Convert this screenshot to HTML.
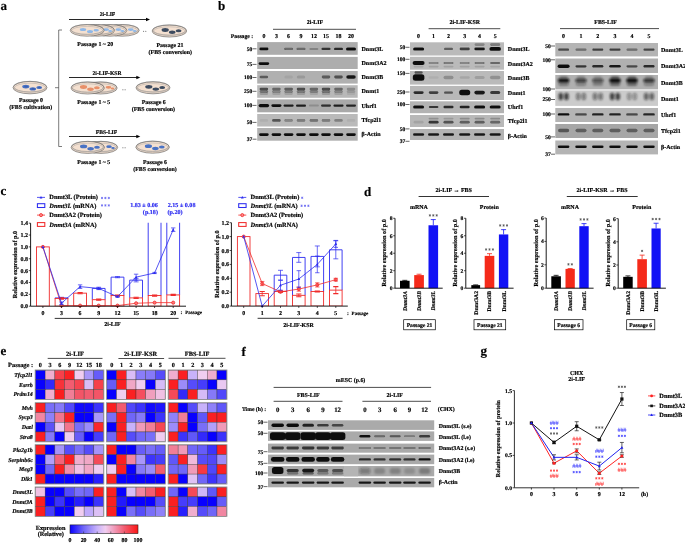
<!DOCTYPE html>
<html><head><meta charset="utf-8"><style>
html,body{margin:0;padding:0;background:#fff;width:685px;height:543px;overflow:hidden}
svg{display:block;will-change:transform}
text{font-family:"Liberation Serif",serif;font-weight:bold;text-rendering:geometricPrecision}
</style></head><body>
<svg width="685" height="543" viewBox="0 0 685 543">
<defs><filter id="sb" x="-30%" y="-30%" width="160%" height="160%"><feGaussianBlur stdDeviation="0.35"/></filter><filter id="bl" x="-30%" y="-80%" width="160%" height="260%"><feGaussianBlur stdDeviation="0.7"/></filter><filter id="bl2" x="-40%" y="-80%" width="180%" height="260%"><feGaussianBlur stdDeviation="1.1"/></filter></defs>
<text x="0.50" y="10.00" font-size="13" text-anchor="start" fill="#000" stroke="#000" stroke-width="0.18">a</text>
<text x="218.00" y="10.00" font-size="13" text-anchor="start" fill="#000" stroke="#000" stroke-width="0.18">b</text>
<text x="0.50" y="195.30" font-size="13" text-anchor="start" fill="#000" stroke="#000" stroke-width="0.18">c</text>
<text x="364.00" y="196.00" font-size="13" text-anchor="start" fill="#000" stroke="#000" stroke-width="0.18">d</text>
<text x="0.50" y="354.70" font-size="13" text-anchor="start" fill="#000" stroke="#000" stroke-width="0.18">e</text>
<text x="241.50" y="355.50" font-size="13" text-anchor="start" fill="#000" stroke="#000" stroke-width="0.18">f</text>
<text x="480.50" y="355.00" font-size="13" text-anchor="start" fill="#000" stroke="#000" stroke-width="0.18">g</text>
<path d="M62,30 L58.7,30 L58.7,146.5 L62,146.5" fill="none" stroke="#444" stroke-width="0.7"/>
<line x1="55.00" y1="87.70" x2="58.70" y2="87.70" stroke="#444" stroke-width="0.7"/>
<ellipse cx="30.00" cy="87.60" rx="17.00" ry="6.20" fill="#f4e0d0" stroke="#4a4a4a" stroke-width="0.55"/>
<ellipse cx="30.00" cy="86.60" rx="16.40" ry="5.30" fill="none" stroke="#777" stroke-width="0.45"/>
<ellipse cx="30.00" cy="87.80" rx="15.60" ry="4.60" fill="none" stroke="#9a9a9a" stroke-width="0.4"/>
<ellipse cx="25.80" cy="86.60" rx="3.60" ry="1.90" fill="#4a72c4" filter="url(#sb)"/>
<ellipse cx="26.10" cy="86.60" rx="1.98" ry="0.95" fill="#3a5fb0" filter="url(#sb)"/>
<ellipse cx="32.80" cy="88.90" rx="3.30" ry="1.70" fill="#4a72c4" filter="url(#sb)"/>
<ellipse cx="33.10" cy="88.90" rx="1.81" ry="0.85" fill="#3a5fb0" filter="url(#sb)"/>
<ellipse cx="39.20" cy="87.40" rx="2.90" ry="1.50" fill="#4a72c4" filter="url(#sb)"/>
<ellipse cx="39.50" cy="87.40" rx="1.59" ry="0.75" fill="#3a5fb0" filter="url(#sb)"/>
<text x="31.00" y="101.60" font-size="5.9" text-anchor="middle" fill="#000" stroke="#000" stroke-width="0.18">Passage 0</text>
<text x="30.70" y="109.20" font-size="5.9" text-anchor="middle" fill="#000" stroke="#000" stroke-width="0.18">(FBS cultivation)</text>
<text x="107.50" y="16.20" font-size="5.6" text-anchor="middle" fill="#000" stroke="#000" stroke-width="0.18">2i-LIF</text>
<line x1="69.00" y1="19.50" x2="147.00" y2="19.50" stroke="#000" stroke-width="0.85"/>
<polygon points="150.00,19.50 146.00,17.80 146.00,21.20" fill="#000"/>
<ellipse cx="122.20" cy="30.40" rx="17.00" ry="5.80" fill="#f4e0d0" stroke="#4a4a4a" stroke-width="0.55"/>
<ellipse cx="122.20" cy="29.40" rx="16.40" ry="4.90" fill="none" stroke="#777" stroke-width="0.45"/>
<ellipse cx="122.20" cy="30.60" rx="15.60" ry="4.20" fill="none" stroke="#9a9a9a" stroke-width="0.4"/>
<ellipse cx="130.70" cy="29.60" rx="2.90" ry="1.40" fill="#8fb8e8" filter="url(#sb)"/>
<ellipse cx="134.70" cy="31.00" rx="2.00" ry="1.10" fill="#8fb8e8" filter="url(#sb)"/>
<ellipse cx="109.90" cy="30.40" rx="17.00" ry="5.80" fill="#f4e0d0" stroke="#4a4a4a" stroke-width="0.55"/>
<ellipse cx="109.90" cy="29.40" rx="16.40" ry="4.90" fill="none" stroke="#777" stroke-width="0.45"/>
<ellipse cx="109.90" cy="30.60" rx="15.60" ry="4.20" fill="none" stroke="#9a9a9a" stroke-width="0.4"/>
<ellipse cx="118.40" cy="29.60" rx="2.90" ry="1.40" fill="#8fb8e8" filter="url(#sb)"/>
<ellipse cx="122.40" cy="31.00" rx="2.00" ry="1.10" fill="#8fb8e8" filter="url(#sb)"/>
<ellipse cx="97.60" cy="30.40" rx="17.00" ry="5.80" fill="#f4e0d0" stroke="#4a4a4a" stroke-width="0.55"/>
<ellipse cx="97.60" cy="29.40" rx="16.40" ry="4.90" fill="none" stroke="#777" stroke-width="0.45"/>
<ellipse cx="97.60" cy="30.60" rx="15.60" ry="4.20" fill="none" stroke="#9a9a9a" stroke-width="0.4"/>
<ellipse cx="106.10" cy="29.60" rx="2.90" ry="1.40" fill="#8fb8e8" filter="url(#sb)"/>
<ellipse cx="110.10" cy="31.00" rx="2.00" ry="1.10" fill="#8fb8e8" filter="url(#sb)"/>
<ellipse cx="87.20" cy="30.40" rx="17.00" ry="5.80" fill="#f4e0d0" stroke="#4a4a4a" stroke-width="0.55"/>
<ellipse cx="87.20" cy="29.40" rx="16.40" ry="4.90" fill="none" stroke="#777" stroke-width="0.45"/>
<ellipse cx="87.20" cy="30.60" rx="15.60" ry="4.20" fill="none" stroke="#9a9a9a" stroke-width="0.4"/>
<ellipse cx="83.00" cy="29.60" rx="3.20" ry="1.50" fill="#8fb8e8" filter="url(#sb)"/>
<ellipse cx="90.00" cy="31.60" rx="3.00" ry="1.50" fill="#8fb8e8" filter="url(#sb)"/>
<ellipse cx="96.20" cy="30.20" rx="2.70" ry="1.30" fill="#8fb8e8" filter="url(#sb)"/>
<circle cx="143.60" cy="31.30" r="0.55" fill="#555"/><circle cx="145.80" cy="31.30" r="0.55" fill="#555"/>
<ellipse cx="169.40" cy="31.00" rx="17.30" ry="6.00" fill="#f4e0d0" stroke="#4a4a4a" stroke-width="0.55"/>
<ellipse cx="169.40" cy="30.00" rx="16.70" ry="5.10" fill="none" stroke="#777" stroke-width="0.45"/>
<ellipse cx="169.40" cy="31.20" rx="15.90" ry="4.40" fill="none" stroke="#9a9a9a" stroke-width="0.4"/>
<ellipse cx="165.20" cy="30.00" rx="3.60" ry="1.90" fill="#3c4c60" filter="url(#sb)"/>
<ellipse cx="172.20" cy="32.30" rx="3.30" ry="1.70" fill="#3c4c60" filter="url(#sb)"/>
<ellipse cx="178.60" cy="30.80" rx="2.90" ry="1.50" fill="#3c4c60" filter="url(#sb)"/>
<text x="95.30" y="45.60" font-size="5.9" text-anchor="middle" fill="#000" stroke="#000" stroke-width="0.18">Passage 1 ~ 20</text>
<text x="170.00" y="47.00" font-size="5.9" text-anchor="middle" fill="#000" stroke="#000" stroke-width="0.18">Passage 21</text>
<text x="170.30" y="54.00" font-size="5.9" text-anchor="middle" fill="#000" stroke="#000" stroke-width="0.18">(FBS conversion)</text>
<text x="107.00" y="74.50" font-size="5.6" text-anchor="middle" fill="#000" stroke="#000" stroke-width="0.18">2i-LIF-KSR</text>
<line x1="69.00" y1="77.50" x2="137.30" y2="77.50" stroke="#000" stroke-width="0.85"/>
<polygon points="140.30,77.50 136.30,75.80 136.30,79.20" fill="#000"/>
<ellipse cx="100.50" cy="88.00" rx="16.70" ry="6.00" fill="#f4e0d0" stroke="#4a4a4a" stroke-width="0.55"/>
<ellipse cx="100.50" cy="87.00" rx="16.10" ry="5.10" fill="none" stroke="#777" stroke-width="0.45"/>
<ellipse cx="100.50" cy="88.20" rx="15.30" ry="4.40" fill="none" stroke="#9a9a9a" stroke-width="0.4"/>
<ellipse cx="108.50" cy="87.30" rx="2.80" ry="1.40" fill="#e8906a" filter="url(#sb)"/>
<ellipse cx="112.50" cy="88.50" rx="1.80" ry="1.00" fill="#e8906a" filter="url(#sb)"/>
<ellipse cx="87.70" cy="88.00" rx="16.70" ry="6.00" fill="#f4e0d0" stroke="#4a4a4a" stroke-width="0.55"/>
<ellipse cx="87.70" cy="87.00" rx="16.10" ry="5.10" fill="none" stroke="#777" stroke-width="0.45"/>
<ellipse cx="87.70" cy="88.20" rx="15.30" ry="4.40" fill="none" stroke="#9a9a9a" stroke-width="0.4"/>
<ellipse cx="83.50" cy="87.00" rx="3.60" ry="1.90" fill="#e8906a" filter="url(#sb)"/>
<ellipse cx="90.50" cy="89.30" rx="3.30" ry="1.70" fill="#e8906a" filter="url(#sb)"/>
<ellipse cx="96.90" cy="87.80" rx="2.90" ry="1.50" fill="#e8906a" filter="url(#sb)"/>
<circle cx="122.90" cy="89.80" r="0.55" fill="#555"/><circle cx="125.10" cy="89.80" r="0.55" fill="#555"/>
<ellipse cx="153.00" cy="87.80" rx="17.00" ry="6.00" fill="#f4e0d0" stroke="#4a4a4a" stroke-width="0.55"/>
<ellipse cx="153.00" cy="86.80" rx="16.40" ry="5.10" fill="none" stroke="#777" stroke-width="0.45"/>
<ellipse cx="153.00" cy="88.00" rx="15.60" ry="4.40" fill="none" stroke="#9a9a9a" stroke-width="0.4"/>
<ellipse cx="148.80" cy="86.80" rx="3.60" ry="1.90" fill="#3c4c60" filter="url(#sb)"/>
<ellipse cx="155.80" cy="89.10" rx="3.30" ry="1.70" fill="#3c4c60" filter="url(#sb)"/>
<ellipse cx="162.20" cy="87.60" rx="2.90" ry="1.50" fill="#3c4c60" filter="url(#sb)"/>
<text x="93.80" y="103.60" font-size="5.9" text-anchor="middle" fill="#000" stroke="#000" stroke-width="0.18">Passage 1 ~ 5</text>
<text x="153.80" y="104.00" font-size="5.9" text-anchor="middle" fill="#000" stroke="#000" stroke-width="0.18">Passage 6</text>
<text x="153.40" y="110.80" font-size="5.9" text-anchor="middle" fill="#000" stroke="#000" stroke-width="0.18">(FBS conversion)</text>
<text x="106.50" y="133.60" font-size="5.6" text-anchor="middle" fill="#000" stroke="#000" stroke-width="0.18">FBS-LIF</text>
<line x1="69.00" y1="136.50" x2="137.30" y2="136.50" stroke="#000" stroke-width="0.85"/>
<polygon points="140.30,136.50 136.30,134.80 136.30,138.20" fill="#000"/>
<ellipse cx="101.00" cy="147.40" rx="16.70" ry="6.00" fill="#f4e0d0" stroke="#4a4a4a" stroke-width="0.55"/>
<ellipse cx="101.00" cy="146.40" rx="16.10" ry="5.10" fill="none" stroke="#777" stroke-width="0.45"/>
<ellipse cx="101.00" cy="147.60" rx="15.30" ry="4.40" fill="none" stroke="#9a9a9a" stroke-width="0.4"/>
<ellipse cx="109.00" cy="146.70" rx="2.80" ry="1.40" fill="#4a72c4" filter="url(#sb)"/>
<ellipse cx="113.00" cy="147.90" rx="1.80" ry="1.00" fill="#4a72c4" filter="url(#sb)"/>
<ellipse cx="87.80" cy="147.40" rx="16.70" ry="6.00" fill="#f4e0d0" stroke="#4a4a4a" stroke-width="0.55"/>
<ellipse cx="87.80" cy="146.40" rx="16.10" ry="5.10" fill="none" stroke="#777" stroke-width="0.45"/>
<ellipse cx="87.80" cy="147.60" rx="15.30" ry="4.40" fill="none" stroke="#9a9a9a" stroke-width="0.4"/>
<ellipse cx="83.60" cy="146.40" rx="3.60" ry="1.90" fill="#4a72c4" filter="url(#sb)"/>
<ellipse cx="90.60" cy="148.70" rx="3.30" ry="1.70" fill="#4a72c4" filter="url(#sb)"/>
<ellipse cx="97.00" cy="147.20" rx="2.90" ry="1.50" fill="#4a72c4" filter="url(#sb)"/>
<circle cx="122.90" cy="147.70" r="0.55" fill="#555"/><circle cx="125.10" cy="147.70" r="0.55" fill="#555"/>
<ellipse cx="152.60" cy="147.20" rx="16.80" ry="6.00" fill="#f4e0d0" stroke="#4a4a4a" stroke-width="0.55"/>
<ellipse cx="152.60" cy="146.20" rx="16.20" ry="5.10" fill="none" stroke="#777" stroke-width="0.45"/>
<ellipse cx="152.60" cy="147.40" rx="15.40" ry="4.40" fill="none" stroke="#9a9a9a" stroke-width="0.4"/>
<ellipse cx="148.40" cy="146.20" rx="3.60" ry="1.90" fill="#4a72c4" filter="url(#sb)"/>
<ellipse cx="155.40" cy="148.50" rx="3.30" ry="1.70" fill="#4a72c4" filter="url(#sb)"/>
<ellipse cx="161.80" cy="147.00" rx="2.90" ry="1.50" fill="#4a72c4" filter="url(#sb)"/>
<text x="93.80" y="163.80" font-size="5.9" text-anchor="middle" fill="#000" stroke="#000" stroke-width="0.18">Passage 1 ~ 5</text>
<text x="155.00" y="164.00" font-size="5.9" text-anchor="middle" fill="#000" stroke="#000" stroke-width="0.18">Passage 6</text>
<text x="155.00" y="171.00" font-size="5.9" text-anchor="middle" fill="#000" stroke="#000" stroke-width="0.18">(FBS conversion)</text>
<rect x="257.20" y="42.10" width="100.50" height="12.70" fill="#acacac" stroke="none" stroke-width="0.6"/>
<rect x="257.20" y="56.90" width="100.50" height="12.10" fill="#adadad" stroke="none" stroke-width="0.6"/>
<rect x="257.20" y="71.00" width="100.50" height="12.60" fill="#b0b0b0" stroke="none" stroke-width="0.6"/>
<rect x="257.20" y="85.20" width="100.50" height="12.60" fill="#b8b8b8" stroke="none" stroke-width="0.6"/>
<rect x="257.20" y="99.40" width="100.50" height="12.90" fill="#a9a9a9" stroke="none" stroke-width="0.6"/>
<rect x="257.20" y="114.00" width="100.50" height="12.50" fill="#bababa" stroke="none" stroke-width="0.6"/>
<rect x="257.20" y="128.00" width="100.50" height="12.70" fill="#b0b0b0" stroke="none" stroke-width="0.6"/>
<rect x="259.40" y="47.60" width="9.00" height="2.60" rx="1.30" fill="#111" fill-opacity="1.00" filter="url(#bl)"/>
<rect x="284.10" y="47.80" width="9.00" height="2.20" rx="1.10" fill="#111" fill-opacity="0.44" filter="url(#bl)"/>
<rect x="296.50" y="47.80" width="9.00" height="2.20" rx="1.10" fill="#111" fill-opacity="0.44" filter="url(#bl)"/>
<rect x="309.40" y="47.90" width="9.00" height="2.00" rx="1.00" fill="#111" fill-opacity="0.24" filter="url(#bl)"/>
<rect x="321.50" y="47.80" width="9.00" height="2.20" rx="1.10" fill="#111" fill-opacity="0.77" filter="url(#bl)"/>
<rect x="334.00" y="47.70" width="9.00" height="2.40" rx="1.20" fill="#111" fill-opacity="0.83" filter="url(#bl)"/>
<rect x="346.00" y="47.40" width="10.00" height="3.00" rx="1.50" fill="#111" fill-opacity="1.00" filter="url(#bl)"/>
<rect x="258.65" y="62.30" width="10.50" height="2.60" rx="1.30" fill="#111" fill-opacity="1.00" filter="url(#bl)"/>
<rect x="259.65" y="75.70" width="8.50" height="2.60" rx="1.30" fill="#111" fill-opacity="0.55" filter="url(#bl)"/>
<rect x="284.35" y="75.50" width="8.50" height="3.00" rx="1.50" fill="#111" fill-opacity="0.07" filter="url(#bl)"/>
<rect x="296.75" y="75.50" width="8.50" height="3.00" rx="1.50" fill="#111" fill-opacity="0.13" filter="url(#bl)"/>
<rect x="321.75" y="75.60" width="8.50" height="2.80" rx="1.40" fill="#111" fill-opacity="0.55" filter="url(#bl)"/>
<rect x="334.25" y="75.60" width="8.50" height="2.80" rx="1.40" fill="#111" fill-opacity="0.61" filter="url(#bl)"/>
<rect x="346.25" y="75.20" width="9.50" height="3.60" rx="1.80" fill="#111" fill-opacity="0.94" filter="url(#bl)"/>
<rect x="259.65" y="87.80" width="8.50" height="2.40" rx="1.20" fill="#111" fill-opacity="0.66" filter="url(#bl)"/>
<rect x="272.15" y="87.80" width="8.50" height="2.40" rx="1.20" fill="#111" fill-opacity="0.50" filter="url(#bl)"/>
<rect x="284.35" y="87.80" width="8.50" height="2.40" rx="1.20" fill="#111" fill-opacity="0.55" filter="url(#bl)"/>
<rect x="296.75" y="87.80" width="8.50" height="2.40" rx="1.20" fill="#111" fill-opacity="0.66" filter="url(#bl)"/>
<rect x="309.65" y="87.80" width="8.50" height="2.40" rx="1.20" fill="#111" fill-opacity="0.50" filter="url(#bl)"/>
<rect x="321.75" y="87.80" width="8.50" height="2.40" rx="1.20" fill="#111" fill-opacity="0.66" filter="url(#bl)"/>
<rect x="334.25" y="87.80" width="8.50" height="2.40" rx="1.20" fill="#111" fill-opacity="0.50" filter="url(#bl)"/>
<rect x="346.75" y="87.80" width="8.50" height="2.40" rx="1.20" fill="#111" fill-opacity="0.24" filter="url(#bl)"/>
<rect x="259.65" y="89.90" width="8.50" height="3.00" rx="1.50" fill="#111" fill-opacity="0.42" filter="url(#bl)"/>
<rect x="272.15" y="89.90" width="8.50" height="3.00" rx="1.50" fill="#111" fill-opacity="0.33" filter="url(#bl)"/>
<rect x="284.35" y="89.90" width="8.50" height="3.00" rx="1.50" fill="#111" fill-opacity="0.35" filter="url(#bl)"/>
<rect x="296.75" y="89.90" width="8.50" height="3.00" rx="1.50" fill="#111" fill-opacity="0.39" filter="url(#bl)"/>
<rect x="309.65" y="89.90" width="8.50" height="3.00" rx="1.50" fill="#111" fill-opacity="0.31" filter="url(#bl)"/>
<rect x="321.75" y="89.90" width="8.50" height="3.00" rx="1.50" fill="#111" fill-opacity="0.42" filter="url(#bl)"/>
<rect x="334.25" y="89.90" width="8.50" height="3.00" rx="1.50" fill="#111" fill-opacity="0.33" filter="url(#bl)"/>
<rect x="346.75" y="89.90" width="8.50" height="3.00" rx="1.50" fill="#111" fill-opacity="0.17" filter="url(#bl)"/>
<rect x="259.65" y="92.70" width="8.50" height="2.20" rx="1.10" fill="#111" fill-opacity="0.17" filter="url(#bl)"/>
<rect x="272.15" y="92.70" width="8.50" height="2.20" rx="1.10" fill="#111" fill-opacity="0.13" filter="url(#bl)"/>
<rect x="284.35" y="92.70" width="8.50" height="2.20" rx="1.10" fill="#111" fill-opacity="0.13" filter="url(#bl)"/>
<rect x="296.75" y="92.70" width="8.50" height="2.20" rx="1.10" fill="#111" fill-opacity="0.15" filter="url(#bl)"/>
<rect x="309.65" y="92.70" width="8.50" height="2.20" rx="1.10" fill="#111" fill-opacity="0.11" filter="url(#bl)"/>
<rect x="321.75" y="92.70" width="8.50" height="2.20" rx="1.10" fill="#111" fill-opacity="0.17" filter="url(#bl)"/>
<rect x="334.25" y="92.70" width="8.50" height="2.20" rx="1.10" fill="#111" fill-opacity="0.13" filter="url(#bl)"/>
<rect x="346.75" y="92.70" width="8.50" height="2.20" rx="1.10" fill="#111" fill-opacity="0.07" filter="url(#bl)"/>
<rect x="258.65" y="104.00" width="10.50" height="3.20" rx="1.60" fill="#111" fill-opacity="1.00" filter="url(#bl)"/>
<rect x="271.40" y="104.20" width="10.00" height="2.80" rx="1.40" fill="#111" fill-opacity="1.00" filter="url(#bl)"/>
<rect x="283.60" y="104.40" width="10.00" height="2.40" rx="1.20" fill="#111" fill-opacity="0.90" filter="url(#bl)"/>
<rect x="296.00" y="104.40" width="10.00" height="2.40" rx="1.20" fill="#111" fill-opacity="0.90" filter="url(#bl)"/>
<rect x="308.90" y="104.60" width="10.00" height="2.00" rx="1.00" fill="#111" fill-opacity="0.17" filter="url(#bl)"/>
<rect x="321.00" y="104.50" width="10.00" height="2.20" rx="1.10" fill="#111" fill-opacity="0.79" filter="url(#bl)"/>
<rect x="333.50" y="104.40" width="10.00" height="2.40" rx="1.20" fill="#111" fill-opacity="0.90" filter="url(#bl)"/>
<rect x="346.00" y="104.50" width="10.00" height="2.20" rx="1.10" fill="#111" fill-opacity="0.86" filter="url(#bl)"/>
<rect x="259.65" y="119.10" width="8.50" height="2.60" rx="1.30" fill="#111" fill-opacity="0.06" filter="url(#bl)"/>
<rect x="272.15" y="119.10" width="8.50" height="2.60" rx="1.30" fill="#111" fill-opacity="0.61" filter="url(#bl)"/>
<rect x="284.35" y="119.10" width="8.50" height="2.60" rx="1.30" fill="#111" fill-opacity="0.33" filter="url(#bl)"/>
<rect x="296.75" y="119.10" width="8.50" height="2.60" rx="1.30" fill="#111" fill-opacity="0.39" filter="url(#bl)"/>
<rect x="309.65" y="119.10" width="8.50" height="2.60" rx="1.30" fill="#111" fill-opacity="0.44" filter="url(#bl)"/>
<rect x="321.75" y="119.10" width="8.50" height="2.60" rx="1.30" fill="#111" fill-opacity="0.39" filter="url(#bl)"/>
<rect x="334.25" y="119.10" width="8.50" height="2.60" rx="1.30" fill="#111" fill-opacity="0.31" filter="url(#bl)"/>
<rect x="346.75" y="119.10" width="8.50" height="2.60" rx="1.30" fill="#111" fill-opacity="0.06" filter="url(#bl)"/>
<rect x="259.15" y="133.30" width="9.50" height="2.60" rx="1.30" fill="#111" fill-opacity="1.00" filter="url(#bl)"/>
<rect x="271.65" y="133.30" width="9.50" height="2.60" rx="1.30" fill="#111" fill-opacity="1.00" filter="url(#bl)"/>
<rect x="283.85" y="133.30" width="9.50" height="2.60" rx="1.30" fill="#111" fill-opacity="1.00" filter="url(#bl)"/>
<rect x="296.25" y="133.30" width="9.50" height="2.60" rx="1.30" fill="#111" fill-opacity="1.00" filter="url(#bl)"/>
<rect x="309.15" y="133.30" width="9.50" height="2.60" rx="1.30" fill="#111" fill-opacity="1.00" filter="url(#bl)"/>
<rect x="321.25" y="133.30" width="9.50" height="2.60" rx="1.30" fill="#111" fill-opacity="1.00" filter="url(#bl)"/>
<rect x="333.75" y="133.30" width="9.50" height="2.60" rx="1.30" fill="#111" fill-opacity="1.00" filter="url(#bl)"/>
<rect x="346.25" y="133.30" width="9.50" height="2.60" rx="1.30" fill="#111" fill-opacity="1.00" filter="url(#bl)"/>
<text x="252.20" y="50.70" font-size="5.5" text-anchor="end" fill="#000" stroke="#000" stroke-width="0.18">50</text>
<line x1="252.50" y1="48.80" x2="256.50" y2="48.80" stroke="#000" stroke-width="0.6"/>
<text x="252.20" y="66.30" font-size="5.5" text-anchor="end" fill="#000" stroke="#000" stroke-width="0.18">75</text>
<line x1="252.50" y1="64.40" x2="256.50" y2="64.40" stroke="#000" stroke-width="0.6"/>
<text x="252.20" y="79.40" font-size="5.5" text-anchor="end" fill="#000" stroke="#000" stroke-width="0.18">100</text>
<line x1="252.50" y1="77.50" x2="256.50" y2="77.50" stroke="#000" stroke-width="0.6"/>
<text x="252.20" y="93.20" font-size="5.5" text-anchor="end" fill="#000" stroke="#000" stroke-width="0.18">250</text>
<line x1="252.50" y1="91.30" x2="256.50" y2="91.30" stroke="#000" stroke-width="0.6"/>
<text x="252.20" y="107.30" font-size="5.5" text-anchor="end" fill="#000" stroke="#000" stroke-width="0.18">100</text>
<line x1="252.50" y1="105.40" x2="256.50" y2="105.40" stroke="#000" stroke-width="0.6"/>
<text x="252.20" y="124.30" font-size="5.5" text-anchor="end" fill="#000" stroke="#000" stroke-width="0.18">50</text>
<line x1="252.50" y1="122.40" x2="256.50" y2="122.40" stroke="#000" stroke-width="0.6"/>
<text x="252.20" y="141.10" font-size="5.5" text-anchor="end" fill="#000" stroke="#000" stroke-width="0.18">37</text>
<line x1="252.50" y1="139.20" x2="256.50" y2="139.20" stroke="#000" stroke-width="0.6"/>
<text x="361.50" y="50.50" font-size="6" text-anchor="start" fill="#000" stroke="#000" stroke-width="0.18">Dnmt3L</text>
<text x="361.50" y="64.70" font-size="6" text-anchor="start" fill="#000" stroke="#000" stroke-width="0.18">Dnmt3A2</text>
<text x="361.50" y="78.70" font-size="6" text-anchor="start" fill="#000" stroke="#000" stroke-width="0.18">Dnmt3B</text>
<text x="361.50" y="92.80" font-size="6" text-anchor="start" fill="#000" stroke="#000" stroke-width="0.18">Dnmt1</text>
<text x="361.50" y="107.80" font-size="6" text-anchor="start" fill="#000" stroke="#000" stroke-width="0.18">Uhrf1</text>
<text x="361.50" y="122.00" font-size="6" text-anchor="start" fill="#000" stroke="#000" stroke-width="0.18">Tfcp2l1</text>
<text x="361.50" y="135.90" font-size="6" text-anchor="start" fill="#000" stroke="#000" stroke-width="0.18">β-Actin</text>
<text x="242.00" y="37.60" font-size="5.7" text-anchor="middle" fill="#000" stroke="#000" stroke-width="0.18">Passage :</text>
<text x="263.90" y="37.60" font-size="5.9" text-anchor="middle" fill="#000" stroke="#000" stroke-width="0.18">0</text>
<text x="276.40" y="37.60" font-size="5.9" text-anchor="middle" fill="#000" stroke="#000" stroke-width="0.18">3</text>
<text x="288.60" y="37.60" font-size="5.9" text-anchor="middle" fill="#000" stroke="#000" stroke-width="0.18">6</text>
<text x="301.00" y="37.60" font-size="5.9" text-anchor="middle" fill="#000" stroke="#000" stroke-width="0.18">9</text>
<text x="313.90" y="37.60" font-size="5.9" text-anchor="middle" fill="#000" stroke="#000" stroke-width="0.18">12</text>
<text x="326.00" y="37.60" font-size="5.9" text-anchor="middle" fill="#000" stroke="#000" stroke-width="0.18">15</text>
<text x="338.50" y="37.60" font-size="5.9" text-anchor="middle" fill="#000" stroke="#000" stroke-width="0.18">18</text>
<text x="351.00" y="37.60" font-size="5.9" text-anchor="middle" fill="#000" stroke="#000" stroke-width="0.18">20</text>
<line x1="273.00" y1="29.30" x2="356.00" y2="29.30" stroke="#000" stroke-width="0.7"/>
<text x="315.00" y="24.40" font-size="5.9" text-anchor="middle" fill="#000" stroke="#000" stroke-width="0.18">2i-LIF</text>
<rect x="410.00" y="42.30" width="94.00" height="13.20" fill="#bababa" stroke="none" stroke-width="0.6"/>
<rect x="410.00" y="56.80" width="94.00" height="12.90" fill="#bababa" stroke="none" stroke-width="0.6"/>
<rect x="410.00" y="71.00" width="94.00" height="13.60" fill="#bababa" stroke="none" stroke-width="0.6"/>
<rect x="410.00" y="85.90" width="94.00" height="14.10" fill="#b8b8b8" stroke="none" stroke-width="0.6"/>
<rect x="410.00" y="101.30" width="94.00" height="11.90" fill="#b3b3b3" stroke="none" stroke-width="0.6"/>
<rect x="410.00" y="115.00" width="94.00" height="12.00" fill="#b8b8b8" stroke="none" stroke-width="0.6"/>
<rect x="410.00" y="129.00" width="94.00" height="11.00" fill="#b3b3b3" stroke="none" stroke-width="0.6"/>
<rect x="413.10" y="47.40" width="11.00" height="3.00" rx="1.50" fill="#111" fill-opacity="1.00" filter="url(#bl)"/>
<rect x="444.00" y="47.80" width="9.00" height="2.20" rx="1.10" fill="#111" fill-opacity="0.55" filter="url(#bl)"/>
<rect x="459.70" y="47.60" width="10.00" height="2.60" rx="1.30" fill="#111" fill-opacity="0.72" filter="url(#bl)"/>
<rect x="474.35" y="47.50" width="10.50" height="2.80" rx="1.40" fill="#111" fill-opacity="0.94" filter="url(#bl)"/>
<rect x="489.45" y="47.00" width="11.50" height="3.80" rx="1.90" fill="#111" fill-opacity="1.00" filter="url(#bl)"/>
<rect x="459.70" y="43.30" width="10.00" height="2.60" rx="1.30" fill="#111" fill-opacity="0.06" filter="url(#bl)"/>
<rect x="474.60" y="43.30" width="10.00" height="2.60" rx="1.30" fill="#111" fill-opacity="0.28" filter="url(#bl)"/>
<rect x="490.20" y="43.30" width="10.00" height="2.60" rx="1.30" fill="#111" fill-opacity="0.39" filter="url(#bl)"/>
<rect x="412.60" y="61.00" width="12.00" height="4.00" rx="2.00" fill="#111" fill-opacity="1.00" filter="url(#bl)"/>
<rect x="428.60" y="62.10" width="10.00" height="1.80" rx="0.90" fill="#111" fill-opacity="0.33" filter="url(#bl)"/>
<rect x="443.50" y="62.10" width="10.00" height="1.80" rx="0.90" fill="#111" fill-opacity="0.39" filter="url(#bl)"/>
<rect x="459.70" y="62.10" width="10.00" height="1.80" rx="0.90" fill="#111" fill-opacity="0.33" filter="url(#bl)"/>
<rect x="474.60" y="62.10" width="10.00" height="1.80" rx="0.90" fill="#111" fill-opacity="0.39" filter="url(#bl)"/>
<rect x="490.20" y="62.00" width="10.00" height="2.00" rx="1.00" fill="#111" fill-opacity="0.50" filter="url(#bl)"/>
<rect x="413.60" y="65.80" width="10.00" height="1.60" rx="0.80" fill="#111" fill-opacity="0.11" filter="url(#bl)"/>
<rect x="428.60" y="65.80" width="10.00" height="1.60" rx="0.80" fill="#111" fill-opacity="0.13" filter="url(#bl)"/>
<rect x="443.50" y="65.80" width="10.00" height="1.60" rx="0.80" fill="#111" fill-opacity="0.13" filter="url(#bl)"/>
<rect x="459.70" y="65.80" width="10.00" height="1.60" rx="0.80" fill="#111" fill-opacity="0.13" filter="url(#bl)"/>
<rect x="474.60" y="65.80" width="10.00" height="1.60" rx="0.80" fill="#111" fill-opacity="0.13" filter="url(#bl)"/>
<rect x="490.20" y="65.80" width="10.00" height="1.60" rx="0.80" fill="#111" fill-opacity="0.11" filter="url(#bl)"/>
<rect x="412.85" y="74.15" width="11.50" height="6.50" rx="2.50" fill="#111" fill-opacity="1.00" filter="url(#bl)"/>
<rect x="428.60" y="76.15" width="10.00" height="2.50" rx="1.25" fill="#111" fill-opacity="0.06" filter="url(#bl)"/>
<rect x="443.50" y="75.65" width="10.00" height="3.50" rx="1.75" fill="#111" fill-opacity="0.24" filter="url(#bl)"/>
<rect x="459.70" y="76.15" width="10.00" height="2.50" rx="1.25" fill="#111" fill-opacity="0.11" filter="url(#bl)"/>
<rect x="474.60" y="75.90" width="10.00" height="3.00" rx="1.50" fill="#111" fill-opacity="0.15" filter="url(#bl)"/>
<rect x="489.95" y="75.65" width="10.50" height="3.50" rx="1.75" fill="#111" fill-opacity="0.22" filter="url(#bl)"/>
<rect x="414.60" y="71.25" width="8.00" height="2.50" rx="1.25" fill="#111" fill-opacity="0.61" filter="url(#bl)"/>
<rect x="413.60" y="91.20" width="10.00" height="2.80" rx="1.40" fill="#111" fill-opacity="0.83" filter="url(#bl)"/>
<rect x="428.85" y="91.30" width="9.50" height="2.60" rx="1.30" fill="#111" fill-opacity="0.72" filter="url(#bl)"/>
<rect x="444.00" y="91.40" width="9.00" height="2.40" rx="1.20" fill="#111" fill-opacity="0.61" filter="url(#bl)"/>
<rect x="459.20" y="89.85" width="11.00" height="5.50" rx="2.50" fill="#111" fill-opacity="1.00" filter="url(#bl)"/>
<rect x="474.35" y="90.80" width="10.50" height="3.60" rx="1.80" fill="#111" fill-opacity="0.94" filter="url(#bl)"/>
<rect x="490.20" y="91.10" width="10.00" height="3.00" rx="1.50" fill="#111" fill-opacity="0.77" filter="url(#bl)"/>
<rect x="413.10" y="105.40" width="11.00" height="3.20" rx="1.60" fill="#111" fill-opacity="1.00" filter="url(#bl)"/>
<rect x="428.85" y="106.00" width="9.50" height="2.00" rx="1.00" fill="#111" fill-opacity="0.77" filter="url(#bl)"/>
<rect x="443.50" y="105.80" width="10.00" height="2.40" rx="1.20" fill="#111" fill-opacity="0.83" filter="url(#bl)"/>
<rect x="459.70" y="105.80" width="10.00" height="2.40" rx="1.20" fill="#111" fill-opacity="0.88" filter="url(#bl)"/>
<rect x="474.10" y="105.50" width="11.00" height="3.00" rx="1.50" fill="#111" fill-opacity="1.00" filter="url(#bl)"/>
<rect x="489.70" y="105.40" width="11.00" height="3.20" rx="1.60" fill="#111" fill-opacity="1.00" filter="url(#bl)"/>
<rect x="413.60" y="120.80" width="10.00" height="2.80" rx="1.40" fill="#111" fill-opacity="0.11" filter="url(#bl)"/>
<rect x="428.60" y="120.80" width="10.00" height="2.80" rx="1.40" fill="#111" fill-opacity="0.77" filter="url(#bl)"/>
<rect x="443.50" y="120.80" width="10.00" height="2.80" rx="1.40" fill="#111" fill-opacity="0.61" filter="url(#bl)"/>
<rect x="459.70" y="120.80" width="10.00" height="2.80" rx="1.40" fill="#111" fill-opacity="0.55" filter="url(#bl)"/>
<rect x="474.60" y="120.80" width="10.00" height="2.80" rx="1.40" fill="#111" fill-opacity="0.55" filter="url(#bl)"/>
<rect x="490.20" y="120.80" width="10.00" height="2.80" rx="1.40" fill="#111" fill-opacity="0.50" filter="url(#bl)"/>
<rect x="428.60" y="117.70" width="10.00" height="1.80" rx="0.90" fill="#111" fill-opacity="0.22" filter="url(#bl)"/>
<rect x="443.50" y="117.70" width="10.00" height="1.80" rx="0.90" fill="#111" fill-opacity="0.17" filter="url(#bl)"/>
<rect x="459.70" y="117.70" width="10.00" height="1.80" rx="0.90" fill="#111" fill-opacity="0.24" filter="url(#bl)"/>
<rect x="474.60" y="117.70" width="10.00" height="1.80" rx="0.90" fill="#111" fill-opacity="0.24" filter="url(#bl)"/>
<rect x="490.20" y="117.70" width="10.00" height="1.80" rx="0.90" fill="#111" fill-opacity="0.24" filter="url(#bl)"/>
<rect x="413.10" y="133.30" width="11.00" height="2.40" rx="1.20" fill="#111" fill-opacity="0.94" filter="url(#bl)"/>
<rect x="428.10" y="133.30" width="11.00" height="2.40" rx="1.20" fill="#111" fill-opacity="0.94" filter="url(#bl)"/>
<rect x="443.00" y="133.30" width="11.00" height="2.40" rx="1.20" fill="#111" fill-opacity="0.94" filter="url(#bl)"/>
<rect x="459.20" y="133.30" width="11.00" height="2.40" rx="1.20" fill="#111" fill-opacity="0.94" filter="url(#bl)"/>
<rect x="474.10" y="133.30" width="11.00" height="2.40" rx="1.20" fill="#111" fill-opacity="0.94" filter="url(#bl)"/>
<rect x="489.70" y="133.30" width="11.00" height="2.40" rx="1.20" fill="#111" fill-opacity="0.94" filter="url(#bl)"/>
<text x="405.20" y="49.20" font-size="5.5" text-anchor="end" fill="#000" stroke="#000" stroke-width="0.18">50</text>
<line x1="405.50" y1="47.30" x2="409.50" y2="47.30" stroke="#000" stroke-width="0.6"/>
<text x="405.20" y="61.20" font-size="5.5" text-anchor="end" fill="#000" stroke="#000" stroke-width="0.18">100</text>
<line x1="405.50" y1="59.30" x2="409.50" y2="59.30" stroke="#000" stroke-width="0.6"/>
<text x="405.20" y="75.30" font-size="5.5" text-anchor="end" fill="#000" stroke="#000" stroke-width="0.18">150</text>
<line x1="405.50" y1="73.40" x2="409.50" y2="73.40" stroke="#000" stroke-width="0.6"/>
<text x="405.20" y="93.90" font-size="5.5" text-anchor="end" fill="#000" stroke="#000" stroke-width="0.18">250</text>
<line x1="405.50" y1="92.00" x2="409.50" y2="92.00" stroke="#000" stroke-width="0.6"/>
<text x="405.20" y="106.40" font-size="5.5" text-anchor="end" fill="#000" stroke="#000" stroke-width="0.18">100</text>
<line x1="405.50" y1="104.50" x2="409.50" y2="104.50" stroke="#000" stroke-width="0.6"/>
<text x="405.20" y="130.80" font-size="5.5" text-anchor="end" fill="#000" stroke="#000" stroke-width="0.18">50</text>
<line x1="405.50" y1="128.90" x2="409.50" y2="128.90" stroke="#000" stroke-width="0.6"/>
<text x="405.20" y="143.20" font-size="5.5" text-anchor="end" fill="#000" stroke="#000" stroke-width="0.18">37</text>
<line x1="405.50" y1="141.30" x2="409.50" y2="141.30" stroke="#000" stroke-width="0.6"/>
<text x="507.80" y="51.00" font-size="6" text-anchor="start" fill="#000" stroke="#000" stroke-width="0.18">Dnmt3L</text>
<text x="507.80" y="65.50" font-size="6" text-anchor="start" fill="#000" stroke="#000" stroke-width="0.18">Dnmt3A2</text>
<text x="507.80" y="80.40" font-size="6" text-anchor="start" fill="#000" stroke="#000" stroke-width="0.18">Dnmt3B</text>
<text x="507.80" y="94.80" font-size="6" text-anchor="start" fill="#000" stroke="#000" stroke-width="0.18">Dnmt1</text>
<text x="507.80" y="109.00" font-size="6" text-anchor="start" fill="#000" stroke="#000" stroke-width="0.18">Uhrf1</text>
<text x="507.80" y="123.40" font-size="6" text-anchor="start" fill="#000" stroke="#000" stroke-width="0.18">Tfcp2l1</text>
<text x="507.80" y="138.40" font-size="6" text-anchor="start" fill="#000" stroke="#000" stroke-width="0.18">β-Actin</text>
<text x="418.60" y="37.60" font-size="5.9" text-anchor="middle" fill="#000" stroke="#000" stroke-width="0.18">0</text>
<text x="433.60" y="37.60" font-size="5.9" text-anchor="middle" fill="#000" stroke="#000" stroke-width="0.18">1</text>
<text x="448.50" y="37.60" font-size="5.9" text-anchor="middle" fill="#000" stroke="#000" stroke-width="0.18">2</text>
<text x="464.70" y="37.60" font-size="5.9" text-anchor="middle" fill="#000" stroke="#000" stroke-width="0.18">3</text>
<text x="479.60" y="37.60" font-size="5.9" text-anchor="middle" fill="#000" stroke="#000" stroke-width="0.18">4</text>
<text x="495.20" y="37.60" font-size="5.9" text-anchor="middle" fill="#000" stroke="#000" stroke-width="0.18">5</text>
<line x1="428.60" y1="28.70" x2="500.30" y2="28.70" stroke="#000" stroke-width="0.7"/>
<text x="464.70" y="24.40" font-size="5.9" text-anchor="middle" fill="#000" stroke="#000" stroke-width="0.18">2i-LIF-KSR</text>
<rect x="555.30" y="43.00" width="102.70" height="13.40" fill="#b4b4b4" stroke="none" stroke-width="0.6"/>
<rect x="555.30" y="58.50" width="102.70" height="14.50" fill="#b0b0b0" stroke="none" stroke-width="0.6"/>
<rect x="555.30" y="75.00" width="102.70" height="14.40" fill="#b0b0b0" stroke="none" stroke-width="0.6"/>
<rect x="555.30" y="90.40" width="102.70" height="15.50" fill="#cbcbcb" stroke="none" stroke-width="0.6"/>
<rect x="555.30" y="108.00" width="102.70" height="14.00" fill="#b4b4b4" stroke="none" stroke-width="0.6"/>
<rect x="555.30" y="124.00" width="102.70" height="14.00" fill="#a6a6a6" stroke="none" stroke-width="0.6"/>
<rect x="555.30" y="140.50" width="102.70" height="13.90" fill="#b4b4b4" stroke="none" stroke-width="0.6"/>
<rect x="558.10" y="48.60" width="11.00" height="2.20" rx="1.10" fill="#111" fill-opacity="0.66" filter="url(#bl)"/>
<rect x="575.50" y="48.60" width="11.00" height="2.20" rx="1.10" fill="#111" fill-opacity="0.44" filter="url(#bl)"/>
<rect x="592.30" y="48.60" width="11.00" height="2.20" rx="1.10" fill="#111" fill-opacity="0.72" filter="url(#bl)"/>
<rect x="609.50" y="48.60" width="11.00" height="2.20" rx="1.10" fill="#111" fill-opacity="0.72" filter="url(#bl)"/>
<rect x="626.50" y="48.60" width="11.00" height="2.20" rx="1.10" fill="#111" fill-opacity="0.44" filter="url(#bl)"/>
<rect x="643.50" y="48.60" width="11.00" height="2.20" rx="1.10" fill="#111" fill-opacity="0.68" filter="url(#bl)"/>
<rect x="557.60" y="64.60" width="12.00" height="3.40" rx="1.70" fill="#111" fill-opacity="1.00" filter="url(#bl)"/>
<rect x="575.50" y="65.20" width="11.00" height="2.20" rx="1.10" fill="#111" fill-opacity="0.77" filter="url(#bl)"/>
<rect x="592.30" y="65.10" width="11.00" height="2.40" rx="1.20" fill="#111" fill-opacity="0.83" filter="url(#bl)"/>
<rect x="609.25" y="65.00" width="11.50" height="2.60" rx="1.30" fill="#111" fill-opacity="0.94" filter="url(#bl)"/>
<rect x="626.50" y="65.20" width="11.00" height="2.20" rx="1.10" fill="#111" fill-opacity="0.66" filter="url(#bl)"/>
<rect x="643.50" y="65.10" width="11.00" height="2.40" rx="1.20" fill="#111" fill-opacity="0.83" filter="url(#bl)"/>
<rect x="557.85" y="78.40" width="11.50" height="4.00" rx="2.00" fill="#111" fill-opacity="1.00" filter="url(#bl2)"/>
<rect x="575.25" y="78.65" width="11.50" height="3.50" rx="1.75" fill="#111" fill-opacity="0.77" filter="url(#bl2)"/>
<rect x="592.05" y="78.65" width="11.50" height="3.50" rx="1.75" fill="#111" fill-opacity="0.66" filter="url(#bl2)"/>
<rect x="609.25" y="78.15" width="11.50" height="4.50" rx="2.25" fill="#111" fill-opacity="1.00" filter="url(#bl2)"/>
<rect x="626.25" y="78.15" width="11.50" height="4.50" rx="2.25" fill="#111" fill-opacity="1.00" filter="url(#bl2)"/>
<rect x="643.25" y="78.65" width="11.50" height="3.50" rx="1.75" fill="#111" fill-opacity="0.83" filter="url(#bl2)"/>
<rect x="558.35" y="82.20" width="10.50" height="3.60" rx="1.80" fill="#111" fill-opacity="0.39" filter="url(#bl2)"/>
<rect x="575.75" y="82.20" width="10.50" height="3.60" rx="1.80" fill="#111" fill-opacity="0.33" filter="url(#bl2)"/>
<rect x="592.55" y="82.20" width="10.50" height="3.60" rx="1.80" fill="#111" fill-opacity="0.31" filter="url(#bl2)"/>
<rect x="609.75" y="82.20" width="10.50" height="3.60" rx="1.80" fill="#111" fill-opacity="0.50" filter="url(#bl2)"/>
<rect x="626.75" y="82.20" width="10.50" height="3.60" rx="1.80" fill="#111" fill-opacity="0.50" filter="url(#bl2)"/>
<rect x="643.75" y="82.20" width="10.50" height="3.60" rx="1.80" fill="#111" fill-opacity="0.33" filter="url(#bl2)"/>
<rect x="559.60" y="76.30" width="8.00" height="2.40" rx="1.20" fill="#111" fill-opacity="0.33" filter="url(#bl2)"/>
<rect x="577.00" y="76.30" width="8.00" height="2.40" rx="1.20" fill="#111" fill-opacity="0.28" filter="url(#bl2)"/>
<rect x="593.80" y="76.30" width="8.00" height="2.40" rx="1.20" fill="#111" fill-opacity="0.24" filter="url(#bl2)"/>
<rect x="611.00" y="76.30" width="8.00" height="2.40" rx="1.20" fill="#111" fill-opacity="0.44" filter="url(#bl2)"/>
<rect x="628.00" y="76.30" width="8.00" height="2.40" rx="1.20" fill="#111" fill-opacity="0.39" filter="url(#bl2)"/>
<rect x="645.00" y="76.30" width="8.00" height="2.40" rx="1.20" fill="#111" fill-opacity="0.28" filter="url(#bl2)"/>
<rect x="558.50" y="92.75" width="4.60" height="7.50" rx="2.50" fill="#111" fill-opacity="0.72" filter="url(#bl2)"/>
<rect x="564.10" y="92.75" width="4.60" height="7.50" rx="2.50" fill="#111" fill-opacity="0.72" filter="url(#bl2)"/>
<rect x="575.90" y="92.75" width="4.60" height="7.50" rx="2.50" fill="#111" fill-opacity="0.42" filter="url(#bl2)"/>
<rect x="581.50" y="92.75" width="4.60" height="7.50" rx="2.50" fill="#111" fill-opacity="0.42" filter="url(#bl2)"/>
<rect x="592.70" y="92.75" width="4.60" height="7.50" rx="2.50" fill="#111" fill-opacity="0.46" filter="url(#bl2)"/>
<rect x="598.30" y="92.75" width="4.60" height="7.50" rx="2.50" fill="#111" fill-opacity="0.46" filter="url(#bl2)"/>
<rect x="609.90" y="92.75" width="4.60" height="7.50" rx="2.50" fill="#111" fill-opacity="0.72" filter="url(#bl2)"/>
<rect x="615.50" y="92.75" width="4.60" height="7.50" rx="2.50" fill="#111" fill-opacity="0.72" filter="url(#bl2)"/>
<rect x="626.90" y="92.75" width="4.60" height="7.50" rx="2.50" fill="#111" fill-opacity="0.33" filter="url(#bl2)"/>
<rect x="632.50" y="92.75" width="4.60" height="7.50" rx="2.50" fill="#111" fill-opacity="0.33" filter="url(#bl2)"/>
<rect x="643.90" y="92.75" width="4.60" height="7.50" rx="2.50" fill="#111" fill-opacity="0.55" filter="url(#bl2)"/>
<rect x="649.50" y="92.75" width="4.60" height="7.50" rx="2.50" fill="#111" fill-opacity="0.55" filter="url(#bl2)"/>
<rect x="557.85" y="113.20" width="11.50" height="2.40" rx="1.20" fill="#111" fill-opacity="1.00" filter="url(#bl)"/>
<rect x="575.25" y="113.20" width="11.50" height="2.40" rx="1.20" fill="#111" fill-opacity="0.66" filter="url(#bl)"/>
<rect x="592.05" y="113.20" width="11.50" height="2.40" rx="1.20" fill="#111" fill-opacity="0.88" filter="url(#bl)"/>
<rect x="609.25" y="113.20" width="11.50" height="2.40" rx="1.20" fill="#111" fill-opacity="0.88" filter="url(#bl)"/>
<rect x="626.25" y="113.20" width="11.50" height="2.40" rx="1.20" fill="#111" fill-opacity="0.66" filter="url(#bl)"/>
<rect x="643.25" y="113.20" width="11.50" height="2.40" rx="1.20" fill="#111" fill-opacity="0.86" filter="url(#bl)"/>
<rect x="558.10" y="128.80" width="11.00" height="3.40" rx="1.70" fill="#111" fill-opacity="0.55" filter="url(#bl)"/>
<rect x="575.50" y="128.80" width="11.00" height="3.40" rx="1.70" fill="#111" fill-opacity="0.50" filter="url(#bl)"/>
<rect x="592.30" y="128.80" width="11.00" height="3.40" rx="1.70" fill="#111" fill-opacity="0.50" filter="url(#bl)"/>
<rect x="609.50" y="128.80" width="11.00" height="3.40" rx="1.70" fill="#111" fill-opacity="0.50" filter="url(#bl)"/>
<rect x="626.50" y="128.80" width="11.00" height="3.40" rx="1.70" fill="#111" fill-opacity="0.50" filter="url(#bl)"/>
<rect x="643.50" y="128.80" width="11.00" height="3.40" rx="1.70" fill="#111" fill-opacity="0.50" filter="url(#bl)"/>
<rect x="557.85" y="145.50" width="11.50" height="2.60" rx="1.30" fill="#111" fill-opacity="1.00" filter="url(#bl)"/>
<rect x="575.25" y="145.50" width="11.50" height="2.60" rx="1.30" fill="#111" fill-opacity="1.00" filter="url(#bl)"/>
<rect x="592.05" y="145.50" width="11.50" height="2.60" rx="1.30" fill="#111" fill-opacity="1.00" filter="url(#bl)"/>
<rect x="609.25" y="145.50" width="11.50" height="2.60" rx="1.30" fill="#111" fill-opacity="1.00" filter="url(#bl)"/>
<rect x="626.25" y="145.50" width="11.50" height="2.60" rx="1.30" fill="#111" fill-opacity="1.00" filter="url(#bl)"/>
<rect x="643.25" y="145.50" width="11.50" height="2.60" rx="1.30" fill="#111" fill-opacity="1.00" filter="url(#bl)"/>
<text x="550.70" y="47.90" font-size="5.5" text-anchor="end" fill="#000" stroke="#000" stroke-width="0.18">50</text>
<line x1="551.00" y1="46.00" x2="555.00" y2="46.00" stroke="#000" stroke-width="0.6"/>
<text x="550.70" y="61.70" font-size="5.5" text-anchor="end" fill="#000" stroke="#000" stroke-width="0.18">100</text>
<line x1="551.00" y1="59.80" x2="555.00" y2="59.80" stroke="#000" stroke-width="0.6"/>
<text x="550.70" y="90.90" font-size="5.5" text-anchor="end" fill="#000" stroke="#000" stroke-width="0.18">100</text>
<line x1="551.00" y1="89.00" x2="555.00" y2="89.00" stroke="#000" stroke-width="0.6"/>
<text x="550.70" y="101.40" font-size="5.5" text-anchor="end" fill="#000" stroke="#000" stroke-width="0.18">250</text>
<line x1="551.00" y1="99.50" x2="555.00" y2="99.50" stroke="#000" stroke-width="0.6"/>
<text x="550.70" y="115.90" font-size="5.5" text-anchor="end" fill="#000" stroke="#000" stroke-width="0.18">100</text>
<line x1="551.00" y1="114.00" x2="555.00" y2="114.00" stroke="#000" stroke-width="0.6"/>
<text x="550.70" y="138.80" font-size="5.5" text-anchor="end" fill="#000" stroke="#000" stroke-width="0.18">50</text>
<line x1="551.00" y1="136.90" x2="555.00" y2="136.90" stroke="#000" stroke-width="0.6"/>
<text x="550.70" y="156.10" font-size="5.5" text-anchor="end" fill="#000" stroke="#000" stroke-width="0.18">37</text>
<line x1="551.00" y1="154.20" x2="555.00" y2="154.20" stroke="#000" stroke-width="0.6"/>
<text x="661.00" y="51.60" font-size="6" text-anchor="start" fill="#000" stroke="#000" stroke-width="0.18">Dnmt3L</text>
<text x="661.00" y="68.40" font-size="6" text-anchor="start" fill="#000" stroke="#000" stroke-width="0.18">Dnmt3A2</text>
<text x="661.00" y="85.00" font-size="6" text-anchor="start" fill="#000" stroke="#000" stroke-width="0.18">Dnmt3B</text>
<text x="661.00" y="101.40" font-size="6" text-anchor="start" fill="#000" stroke="#000" stroke-width="0.18">Dnmt1</text>
<text x="661.00" y="117.00" font-size="6" text-anchor="start" fill="#000" stroke="#000" stroke-width="0.18">Uhrf1</text>
<text x="661.00" y="132.50" font-size="6" text-anchor="start" fill="#000" stroke="#000" stroke-width="0.18">Tfcp2l1</text>
<text x="661.00" y="149.20" font-size="6" text-anchor="start" fill="#000" stroke="#000" stroke-width="0.18">β-Actin</text>
<text x="563.60" y="37.60" font-size="5.9" text-anchor="middle" fill="#000" stroke="#000" stroke-width="0.18">0</text>
<text x="581.00" y="37.60" font-size="5.9" text-anchor="middle" fill="#000" stroke="#000" stroke-width="0.18">1</text>
<text x="597.80" y="37.60" font-size="5.9" text-anchor="middle" fill="#000" stroke="#000" stroke-width="0.18">2</text>
<text x="615.00" y="37.60" font-size="5.9" text-anchor="middle" fill="#000" stroke="#000" stroke-width="0.18">3</text>
<text x="632.00" y="37.60" font-size="5.9" text-anchor="middle" fill="#000" stroke="#000" stroke-width="0.18">4</text>
<text x="649.00" y="37.60" font-size="5.9" text-anchor="middle" fill="#000" stroke="#000" stroke-width="0.18">5</text>
<line x1="560.00" y1="28.60" x2="659.00" y2="28.60" stroke="#000" stroke-width="0.7"/>
<text x="605.60" y="23.60" font-size="5.9" text-anchor="middle" fill="#000" stroke="#000" stroke-width="0.18">FBS-LIF</text>
<rect x="268.00" y="420.30" width="166.20" height="9.60" fill="#aaaaaa" stroke="none" stroke-width="0.6"/>
<rect x="268.00" y="431.40" width="166.20" height="9.50" fill="#aaaaaa" stroke="none" stroke-width="0.6"/>
<rect x="268.00" y="443.60" width="166.20" height="9.10" fill="#aaaaaa" stroke="none" stroke-width="0.6"/>
<rect x="268.00" y="454.60" width="166.20" height="9.60" fill="#aaaaaa" stroke="none" stroke-width="0.6"/>
<rect x="268.00" y="466.00" width="166.20" height="10.30" fill="#aaaaaa" stroke="none" stroke-width="0.6"/>
<rect x="268.00" y="478.00" width="166.20" height="9.30" fill="#aaaaaa" stroke="none" stroke-width="0.6"/>
<rect x="271.45" y="423.40" width="12.50" height="3.60" rx="1.80" fill="#111" fill-opacity="1.00" filter="url(#bl)"/>
<rect x="286.45" y="423.40" width="12.50" height="3.60" rx="1.80" fill="#111" fill-opacity="1.00" filter="url(#bl)"/>
<rect x="302.45" y="423.70" width="11.50" height="3.00" rx="1.50" fill="#111" fill-opacity="0.88" filter="url(#bl)"/>
<rect x="317.15" y="423.90" width="11.50" height="2.60" rx="1.30" fill="#111" fill-opacity="0.72" filter="url(#bl)"/>
<rect x="331.85" y="423.90" width="11.50" height="2.60" rx="1.30" fill="#111" fill-opacity="0.66" filter="url(#bl)"/>
<rect x="269.95" y="432.30" width="15.50" height="7.80" rx="2.50" fill="#111" fill-opacity="1.00" filter="url(#bl)"/>
<rect x="284.95" y="432.30" width="15.50" height="7.80" rx="2.50" fill="#111" fill-opacity="1.00" filter="url(#bl)"/>
<rect x="300.45" y="432.30" width="15.50" height="7.80" rx="2.50" fill="#111" fill-opacity="1.00" filter="url(#bl)"/>
<rect x="315.15" y="432.30" width="15.50" height="7.80" rx="2.50" fill="#111" fill-opacity="1.00" filter="url(#bl)"/>
<rect x="329.85" y="432.30" width="15.50" height="7.80" rx="2.50" fill="#111" fill-opacity="1.00" filter="url(#bl)"/>
<rect x="359.40" y="434.90" width="11.00" height="2.60" rx="1.30" fill="#111" fill-opacity="0.99" filter="url(#bl)"/>
<rect x="374.10" y="435.20" width="11.00" height="2.00" rx="1.00" fill="#111" fill-opacity="0.44" filter="url(#bl)"/>
<rect x="389.70" y="435.20" width="11.00" height="2.00" rx="1.00" fill="#111" fill-opacity="0.55" filter="url(#bl)"/>
<rect x="404.00" y="435.30" width="11.00" height="1.80" rx="0.90" fill="#111" fill-opacity="0.33" filter="url(#bl)"/>
<rect x="419.10" y="435.00" width="11.00" height="2.40" rx="1.20" fill="#111" fill-opacity="0.72" filter="url(#bl)"/>
<rect x="271.45" y="446.60" width="12.50" height="2.80" rx="1.40" fill="#111" fill-opacity="0.72" filter="url(#bl)"/>
<rect x="286.45" y="446.60" width="12.50" height="2.80" rx="1.40" fill="#111" fill-opacity="0.72" filter="url(#bl)"/>
<rect x="301.95" y="446.60" width="12.50" height="2.80" rx="1.40" fill="#111" fill-opacity="0.77" filter="url(#bl)"/>
<rect x="316.65" y="446.60" width="12.50" height="2.80" rx="1.40" fill="#111" fill-opacity="0.72" filter="url(#bl)"/>
<rect x="331.35" y="446.60" width="12.50" height="2.80" rx="1.40" fill="#111" fill-opacity="0.72" filter="url(#bl)"/>
<rect x="358.65" y="447.10" width="12.50" height="1.80" rx="0.90" fill="#111" fill-opacity="0.33" filter="url(#bl)"/>
<rect x="373.35" y="447.10" width="12.50" height="1.80" rx="0.90" fill="#111" fill-opacity="0.31" filter="url(#bl)"/>
<rect x="388.95" y="447.10" width="12.50" height="1.80" rx="0.90" fill="#111" fill-opacity="0.31" filter="url(#bl)"/>
<rect x="403.25" y="447.10" width="12.50" height="1.80" rx="0.90" fill="#111" fill-opacity="0.31" filter="url(#bl)"/>
<rect x="418.35" y="447.10" width="12.50" height="1.80" rx="0.90" fill="#111" fill-opacity="0.39" filter="url(#bl)"/>
<rect x="270.95" y="457.10" width="13.50" height="4.60" rx="2.30" fill="#111" fill-opacity="1.00" filter="url(#bl)"/>
<rect x="285.95" y="457.10" width="13.50" height="4.60" rx="2.30" fill="#111" fill-opacity="1.00" filter="url(#bl)"/>
<rect x="301.45" y="457.10" width="13.50" height="4.60" rx="2.30" fill="#111" fill-opacity="1.00" filter="url(#bl)"/>
<rect x="316.15" y="457.10" width="13.50" height="4.60" rx="2.30" fill="#111" fill-opacity="1.00" filter="url(#bl)"/>
<rect x="330.85" y="457.10" width="13.50" height="4.60" rx="2.30" fill="#111" fill-opacity="1.00" filter="url(#bl)"/>
<rect x="358.90" y="458.20" width="12.00" height="2.40" rx="1.20" fill="#111" fill-opacity="0.83" filter="url(#bl)"/>
<rect x="373.60" y="458.20" width="12.00" height="2.40" rx="1.20" fill="#111" fill-opacity="0.77" filter="url(#bl)"/>
<rect x="389.20" y="458.20" width="12.00" height="2.40" rx="1.20" fill="#111" fill-opacity="0.79" filter="url(#bl)"/>
<rect x="403.50" y="458.20" width="12.00" height="2.40" rx="1.20" fill="#111" fill-opacity="0.77" filter="url(#bl)"/>
<rect x="418.60" y="458.20" width="12.00" height="2.40" rx="1.20" fill="#111" fill-opacity="1.00" filter="url(#bl)"/>
<rect x="271.95" y="466.90" width="11.50" height="7.00" rx="2.50" fill="#111" fill-opacity="1.00" filter="url(#bl)"/>
<rect x="286.70" y="468.90" width="12.00" height="3.00" rx="1.50" fill="#111" fill-opacity="0.77" filter="url(#bl)"/>
<rect x="302.20" y="468.65" width="12.00" height="3.50" rx="1.75" fill="#111" fill-opacity="0.94" filter="url(#bl)"/>
<rect x="317.40" y="468.90" width="11.00" height="3.00" rx="1.50" fill="#111" fill-opacity="0.55" filter="url(#bl)"/>
<rect x="332.10" y="468.90" width="11.00" height="3.00" rx="1.50" fill="#111" fill-opacity="0.61" filter="url(#bl)"/>
<rect x="287.20" y="472.00" width="11.00" height="2.40" rx="1.20" fill="#111" fill-opacity="0.39" filter="url(#bl)"/>
<rect x="302.70" y="472.00" width="11.00" height="2.40" rx="1.20" fill="#111" fill-opacity="0.50" filter="url(#bl)"/>
<rect x="317.40" y="472.00" width="11.00" height="2.40" rx="1.20" fill="#111" fill-opacity="0.33" filter="url(#bl)"/>
<rect x="332.10" y="472.00" width="11.00" height="2.40" rx="1.20" fill="#111" fill-opacity="0.33" filter="url(#bl)"/>
<rect x="359.40" y="468.00" width="11.00" height="6.00" rx="2.50" fill="#111" fill-opacity="0.33" filter="url(#bl2)"/>
<rect x="374.10" y="468.00" width="11.00" height="6.00" rx="2.50" fill="#111" fill-opacity="0.22" filter="url(#bl2)"/>
<rect x="389.70" y="468.00" width="11.00" height="6.00" rx="2.50" fill="#111" fill-opacity="0.24" filter="url(#bl2)"/>
<rect x="404.00" y="468.00" width="11.00" height="6.00" rx="2.50" fill="#111" fill-opacity="0.17" filter="url(#bl2)"/>
<rect x="419.10" y="468.00" width="11.00" height="6.00" rx="2.50" fill="#111" fill-opacity="0.28" filter="url(#bl2)"/>
<rect x="271.45" y="481.40" width="12.50" height="2.40" rx="1.20" fill="#111" fill-opacity="0.94" filter="url(#bl)"/>
<rect x="286.45" y="481.40" width="12.50" height="2.40" rx="1.20" fill="#111" fill-opacity="0.94" filter="url(#bl)"/>
<rect x="301.95" y="481.40" width="12.50" height="2.40" rx="1.20" fill="#111" fill-opacity="0.94" filter="url(#bl)"/>
<rect x="316.65" y="481.40" width="12.50" height="2.40" rx="1.20" fill="#111" fill-opacity="0.94" filter="url(#bl)"/>
<rect x="331.35" y="481.40" width="12.50" height="2.40" rx="1.20" fill="#111" fill-opacity="0.94" filter="url(#bl)"/>
<rect x="358.65" y="481.40" width="12.50" height="2.40" rx="1.20" fill="#111" fill-opacity="0.94" filter="url(#bl)"/>
<rect x="373.35" y="481.40" width="12.50" height="2.40" rx="1.20" fill="#111" fill-opacity="0.94" filter="url(#bl)"/>
<rect x="388.95" y="481.40" width="12.50" height="2.40" rx="1.20" fill="#111" fill-opacity="0.94" filter="url(#bl)"/>
<rect x="403.25" y="481.40" width="12.50" height="2.40" rx="1.20" fill="#111" fill-opacity="0.94" filter="url(#bl)"/>
<rect x="418.35" y="481.40" width="12.50" height="2.40" rx="1.20" fill="#111" fill-opacity="0.94" filter="url(#bl)"/>
<rect x="344.00" y="466.00" width="14.00" height="10.30" fill="#b4b4b4" stroke="none" stroke-width="0.6"/>
<text x="263.20" y="424.10" font-size="5.5" text-anchor="end" fill="#000" stroke="#000" stroke-width="0.18">50</text>
<line x1="263.50" y1="422.20" x2="267.50" y2="422.20" stroke="#000" stroke-width="0.6"/>
<text x="263.20" y="435.20" font-size="5.5" text-anchor="end" fill="#000" stroke="#000" stroke-width="0.18">50</text>
<line x1="263.50" y1="433.30" x2="267.50" y2="433.30" stroke="#000" stroke-width="0.6"/>
<text x="263.20" y="453.60" font-size="5.5" text-anchor="end" fill="#000" stroke="#000" stroke-width="0.18">75</text>
<line x1="263.50" y1="451.70" x2="267.50" y2="451.70" stroke="#000" stroke-width="0.6"/>
<text x="263.20" y="465.20" font-size="5.5" text-anchor="end" fill="#000" stroke="#000" stroke-width="0.18">75</text>
<line x1="263.50" y1="463.30" x2="267.50" y2="463.30" stroke="#000" stroke-width="0.6"/>
<text x="263.20" y="474.90" font-size="5.5" text-anchor="end" fill="#000" stroke="#000" stroke-width="0.18">100</text>
<line x1="263.50" y1="473.00" x2="267.50" y2="473.00" stroke="#000" stroke-width="0.6"/>
<text x="263.20" y="488.50" font-size="5.5" text-anchor="end" fill="#000" stroke="#000" stroke-width="0.18">37</text>
<line x1="263.50" y1="486.60" x2="267.50" y2="486.60" stroke="#000" stroke-width="0.6"/>
<text x="438.80" y="427.50" font-size="5.9" text-anchor="start" fill="#000" stroke="#000" stroke-width="0.18">Dnmt3L (s.e)</text>
<text x="438.80" y="439.00" font-size="5.9" text-anchor="start" fill="#000" stroke="#000" stroke-width="0.18">Dnmt3L (l.e)</text>
<text x="438.80" y="450.20" font-size="5.9" text-anchor="start" fill="#000" stroke="#000" stroke-width="0.18">Dnmt3A2 (s.e)</text>
<text x="438.80" y="461.70" font-size="5.9" text-anchor="start" fill="#000" stroke="#000" stroke-width="0.18">Dnmt3A2 (l.e)</text>
<text x="438.80" y="473.00" font-size="5.9" text-anchor="start" fill="#000" stroke="#000" stroke-width="0.18">Dnmt3B</text>
<text x="438.80" y="484.40" font-size="5.9" text-anchor="start" fill="#000" stroke="#000" stroke-width="0.18">β-Actin</text>
<text x="254.00" y="410.80" font-size="5.7" text-anchor="middle" fill="#000" stroke="#000" stroke-width="0.18">Time (h) :</text>
<text x="277.70" y="411.60" font-size="6.8" text-anchor="middle" fill="#000" stroke="#000" stroke-width="0.18">0</text>
<text x="292.70" y="411.60" font-size="6.8" text-anchor="middle" fill="#000" stroke="#000" stroke-width="0.18">3</text>
<text x="308.20" y="411.60" font-size="6.8" text-anchor="middle" fill="#000" stroke="#000" stroke-width="0.18">6</text>
<text x="322.90" y="411.60" font-size="6.8" text-anchor="middle" fill="#000" stroke="#000" stroke-width="0.18">9</text>
<text x="337.60" y="411.60" font-size="6.8" text-anchor="middle" fill="#000" stroke="#000" stroke-width="0.18">12</text>
<text x="364.90" y="411.60" font-size="6.8" text-anchor="middle" fill="#000" stroke="#000" stroke-width="0.18">0</text>
<text x="379.60" y="411.60" font-size="6.8" text-anchor="middle" fill="#000" stroke="#000" stroke-width="0.18">3</text>
<text x="395.20" y="411.60" font-size="6.8" text-anchor="middle" fill="#000" stroke="#000" stroke-width="0.18">6</text>
<text x="409.50" y="411.60" font-size="6.8" text-anchor="middle" fill="#000" stroke="#000" stroke-width="0.18">9</text>
<text x="424.60" y="411.60" font-size="6.8" text-anchor="middle" fill="#000" stroke="#000" stroke-width="0.18">12</text>
<text x="437.80" y="410.80" font-size="5.9" text-anchor="start" fill="#000" stroke="#000" stroke-width="0.18">(CHX)</text>
<line x1="273.60" y1="387.40" x2="431.10" y2="387.40" stroke="#000" stroke-width="0.7"/>
<text x="350.60" y="382.30" font-size="5.9" text-anchor="middle" fill="#000" stroke="#000" stroke-width="0.18">mESC (p.6)</text>
<line x1="273.60" y1="401.30" x2="342.50" y2="401.30" stroke="#000" stroke-width="0.7"/>
<line x1="362.40" y1="401.30" x2="431.00" y2="401.30" stroke="#000" stroke-width="0.7"/>
<text x="308.30" y="397.00" font-size="5.9" text-anchor="middle" fill="#000" stroke="#000" stroke-width="0.18">FBS-LIF</text>
<text x="394.80" y="396.70" font-size="5.9" text-anchor="middle" fill="#000" stroke="#000" stroke-width="0.18">2i-LIF</text>
<rect x="35.40" y="370.20" width="9.74" height="9.67" fill="rgb(8, 0, 255)" stroke="#333" stroke-width="0.35"/>
<rect x="45.14" y="370.20" width="9.74" height="9.67" fill="rgb(240, 174, 206)" stroke="#333" stroke-width="0.35"/>
<rect x="54.89" y="370.20" width="9.74" height="9.67" fill="rgb(246, 64, 75)" stroke="#333" stroke-width="0.35"/>
<rect x="64.63" y="370.20" width="9.74" height="9.67" fill="rgb(250, 32, 34)" stroke="#333" stroke-width="0.35"/>
<rect x="74.37" y="370.20" width="9.74" height="9.67" fill="rgb(240, 205, 240)" stroke="#333" stroke-width="0.35"/>
<rect x="84.11" y="370.20" width="9.74" height="9.67" fill="rgb(169, 151, 249)" stroke="#333" stroke-width="0.35"/>
<rect x="93.86" y="370.20" width="9.74" height="9.67" fill="rgb(102, 92, 249)" stroke="#333" stroke-width="0.35"/>
<rect x="35.40" y="379.87" width="9.74" height="9.67" fill="rgb(8, 0, 255)" stroke="#333" stroke-width="0.35"/>
<rect x="45.14" y="379.87" width="9.74" height="9.67" fill="rgb(50, 41, 252)" stroke="#333" stroke-width="0.35"/>
<rect x="54.89" y="379.87" width="9.74" height="9.67" fill="rgb(248, 50, 57)" stroke="#333" stroke-width="0.35"/>
<rect x="64.63" y="379.87" width="9.74" height="9.67" fill="rgb(242, 92, 112)" stroke="#333" stroke-width="0.35"/>
<rect x="74.37" y="379.87" width="9.74" height="9.67" fill="rgb(246, 68, 80)" stroke="#333" stroke-width="0.35"/>
<rect x="84.11" y="379.87" width="9.74" height="9.67" fill="rgb(217, 189, 246)" stroke="#333" stroke-width="0.35"/>
<rect x="93.86" y="379.87" width="9.74" height="9.67" fill="rgb(246, 64, 75)" stroke="#333" stroke-width="0.35"/>
<rect x="35.40" y="389.53" width="9.74" height="9.67" fill="rgb(8, 0, 255)" stroke="#333" stroke-width="0.35"/>
<rect x="45.14" y="389.53" width="9.74" height="9.67" fill="rgb(240, 174, 206)" stroke="#333" stroke-width="0.35"/>
<rect x="54.89" y="389.53" width="9.74" height="9.67" fill="rgb(251, 29, 29)" stroke="#333" stroke-width="0.35"/>
<rect x="64.63" y="389.53" width="9.74" height="9.67" fill="rgb(241, 126, 151)" stroke="#333" stroke-width="0.35"/>
<rect x="74.37" y="389.53" width="9.74" height="9.67" fill="rgb(243, 85, 103)" stroke="#333" stroke-width="0.35"/>
<rect x="84.11" y="389.53" width="9.74" height="9.67" fill="rgb(242, 92, 112)" stroke="#333" stroke-width="0.35"/>
<rect x="93.86" y="389.53" width="9.74" height="9.67" fill="rgb(243, 85, 103)" stroke="#333" stroke-width="0.35"/>
<rect x="35.40" y="403.00" width="9.74" height="9.65" fill="rgb(250, 32, 34)" stroke="#333" stroke-width="0.35"/>
<rect x="45.14" y="403.00" width="9.74" height="9.65" fill="rgb(121, 110, 248)" stroke="#333" stroke-width="0.35"/>
<rect x="54.89" y="403.00" width="9.74" height="9.65" fill="rgb(134, 121, 248)" stroke="#333" stroke-width="0.35"/>
<rect x="64.63" y="403.00" width="9.74" height="9.65" fill="rgb(81, 71, 250)" stroke="#333" stroke-width="0.35"/>
<rect x="74.37" y="403.00" width="9.74" height="9.65" fill="rgb(18, 10, 254)" stroke="#333" stroke-width="0.35"/>
<rect x="84.11" y="403.00" width="9.74" height="9.65" fill="rgb(18, 10, 254)" stroke="#333" stroke-width="0.35"/>
<rect x="93.86" y="403.00" width="9.74" height="9.65" fill="rgb(60, 51, 252)" stroke="#333" stroke-width="0.35"/>
<rect x="35.40" y="412.65" width="9.74" height="9.65" fill="rgb(241, 134, 161)" stroke="#333" stroke-width="0.35"/>
<rect x="45.14" y="412.65" width="9.74" height="9.65" fill="rgb(143, 129, 249)" stroke="#333" stroke-width="0.35"/>
<rect x="54.89" y="412.65" width="9.74" height="9.65" fill="rgb(241, 117, 141)" stroke="#333" stroke-width="0.35"/>
<rect x="64.63" y="412.65" width="9.74" height="9.65" fill="rgb(250, 32, 34)" stroke="#333" stroke-width="0.35"/>
<rect x="74.37" y="412.65" width="9.74" height="9.65" fill="rgb(8, 0, 255)" stroke="#333" stroke-width="0.35"/>
<rect x="84.11" y="412.65" width="9.74" height="9.65" fill="rgb(8, 0, 255)" stroke="#333" stroke-width="0.35"/>
<rect x="93.86" y="412.65" width="9.74" height="9.65" fill="rgb(169, 151, 249)" stroke="#333" stroke-width="0.35"/>
<rect x="35.40" y="422.30" width="9.74" height="9.65" fill="rgb(8, 0, 255)" stroke="#333" stroke-width="0.35"/>
<rect x="45.14" y="422.30" width="9.74" height="9.65" fill="rgb(91, 82, 249)" stroke="#333" stroke-width="0.35"/>
<rect x="54.89" y="422.30" width="9.74" height="9.65" fill="rgb(233, 200, 242)" stroke="#333" stroke-width="0.35"/>
<rect x="64.63" y="422.30" width="9.74" height="9.65" fill="rgb(241, 117, 141)" stroke="#333" stroke-width="0.35"/>
<rect x="74.37" y="422.30" width="9.74" height="9.65" fill="rgb(121, 110, 248)" stroke="#333" stroke-width="0.35"/>
<rect x="84.11" y="422.30" width="9.74" height="9.65" fill="rgb(156, 140, 249)" stroke="#333" stroke-width="0.35"/>
<rect x="93.86" y="422.30" width="9.74" height="9.65" fill="rgb(250, 40, 43)" stroke="#333" stroke-width="0.35"/>
<rect x="35.40" y="431.95" width="9.74" height="9.65" fill="rgb(250, 32, 34)" stroke="#333" stroke-width="0.35"/>
<rect x="45.14" y="431.95" width="9.74" height="9.65" fill="rgb(134, 121, 248)" stroke="#333" stroke-width="0.35"/>
<rect x="54.89" y="431.95" width="9.74" height="9.65" fill="rgb(8, 0, 255)" stroke="#333" stroke-width="0.35"/>
<rect x="64.63" y="431.95" width="9.74" height="9.65" fill="rgb(240, 205, 240)" stroke="#333" stroke-width="0.35"/>
<rect x="74.37" y="431.95" width="9.74" height="9.65" fill="rgb(102, 92, 249)" stroke="#333" stroke-width="0.35"/>
<rect x="84.11" y="431.95" width="9.74" height="9.65" fill="rgb(8, 0, 255)" stroke="#333" stroke-width="0.35"/>
<rect x="93.86" y="431.95" width="9.74" height="9.65" fill="rgb(70, 61, 251)" stroke="#333" stroke-width="0.35"/>
<rect x="35.40" y="445.00" width="9.74" height="9.70" fill="rgb(250, 32, 34)" stroke="#333" stroke-width="0.35"/>
<rect x="45.14" y="445.00" width="9.74" height="9.70" fill="rgb(8, 0, 255)" stroke="#333" stroke-width="0.35"/>
<rect x="54.89" y="445.00" width="9.74" height="9.70" fill="rgb(165, 148, 249)" stroke="#333" stroke-width="0.35"/>
<rect x="64.63" y="445.00" width="9.74" height="9.70" fill="rgb(86, 76, 250)" stroke="#333" stroke-width="0.35"/>
<rect x="74.37" y="445.00" width="9.74" height="9.70" fill="rgb(121, 110, 248)" stroke="#333" stroke-width="0.35"/>
<rect x="84.11" y="445.00" width="9.74" height="9.70" fill="rgb(86, 76, 250)" stroke="#333" stroke-width="0.35"/>
<rect x="93.86" y="445.00" width="9.74" height="9.70" fill="rgb(165, 148, 249)" stroke="#333" stroke-width="0.35"/>
<rect x="35.40" y="454.70" width="9.74" height="9.70" fill="rgb(8, 0, 255)" stroke="#333" stroke-width="0.35"/>
<rect x="45.14" y="454.70" width="9.74" height="9.70" fill="rgb(178, 159, 250)" stroke="#333" stroke-width="0.35"/>
<rect x="54.89" y="454.70" width="9.74" height="9.70" fill="rgb(242, 100, 122)" stroke="#333" stroke-width="0.35"/>
<rect x="64.63" y="454.70" width="9.74" height="9.70" fill="rgb(250, 32, 34)" stroke="#333" stroke-width="0.35"/>
<rect x="74.37" y="454.70" width="9.74" height="9.70" fill="rgb(240, 174, 206)" stroke="#333" stroke-width="0.35"/>
<rect x="84.11" y="454.70" width="9.74" height="9.70" fill="rgb(240, 167, 198)" stroke="#333" stroke-width="0.35"/>
<rect x="93.86" y="454.70" width="9.74" height="9.70" fill="rgb(244, 74, 89)" stroke="#333" stroke-width="0.35"/>
<rect x="35.40" y="464.40" width="9.74" height="9.70" fill="rgb(8, 0, 255)" stroke="#333" stroke-width="0.35"/>
<rect x="45.14" y="464.40" width="9.74" height="9.70" fill="rgb(112, 102, 248)" stroke="#333" stroke-width="0.35"/>
<rect x="54.89" y="464.40" width="9.74" height="9.70" fill="rgb(250, 32, 34)" stroke="#333" stroke-width="0.35"/>
<rect x="64.63" y="464.40" width="9.74" height="9.70" fill="rgb(240, 142, 170)" stroke="#333" stroke-width="0.35"/>
<rect x="74.37" y="464.40" width="9.74" height="9.70" fill="rgb(240, 193, 227)" stroke="#333" stroke-width="0.35"/>
<rect x="84.11" y="464.40" width="9.74" height="9.70" fill="rgb(240, 167, 198)" stroke="#333" stroke-width="0.35"/>
<rect x="93.86" y="464.40" width="9.74" height="9.70" fill="rgb(240, 205, 240)" stroke="#333" stroke-width="0.35"/>
<rect x="35.40" y="474.10" width="9.74" height="9.70" fill="rgb(250, 32, 34)" stroke="#333" stroke-width="0.35"/>
<rect x="45.14" y="474.10" width="9.74" height="9.70" fill="rgb(8, 0, 255)" stroke="#333" stroke-width="0.35"/>
<rect x="54.89" y="474.10" width="9.74" height="9.70" fill="rgb(8, 0, 255)" stroke="#333" stroke-width="0.35"/>
<rect x="64.63" y="474.10" width="9.74" height="9.70" fill="rgb(8, 0, 255)" stroke="#333" stroke-width="0.35"/>
<rect x="74.37" y="474.10" width="9.74" height="9.70" fill="rgb(8, 0, 255)" stroke="#333" stroke-width="0.35"/>
<rect x="84.11" y="474.10" width="9.74" height="9.70" fill="rgb(8, 0, 255)" stroke="#333" stroke-width="0.35"/>
<rect x="93.86" y="474.10" width="9.74" height="9.70" fill="rgb(39, 31, 253)" stroke="#333" stroke-width="0.35"/>
<rect x="35.40" y="487.20" width="9.74" height="9.67" fill="rgb(240, 193, 227)" stroke="#333" stroke-width="0.35"/>
<rect x="45.14" y="487.20" width="9.74" height="9.67" fill="rgb(8, 0, 255)" stroke="#333" stroke-width="0.35"/>
<rect x="54.89" y="487.20" width="9.74" height="9.67" fill="rgb(8, 0, 255)" stroke="#333" stroke-width="0.35"/>
<rect x="64.63" y="487.20" width="9.74" height="9.67" fill="rgb(86, 76, 250)" stroke="#333" stroke-width="0.35"/>
<rect x="74.37" y="487.20" width="9.74" height="9.67" fill="rgb(121, 110, 248)" stroke="#333" stroke-width="0.35"/>
<rect x="84.11" y="487.20" width="9.74" height="9.67" fill="rgb(112, 102, 248)" stroke="#333" stroke-width="0.35"/>
<rect x="93.86" y="487.20" width="9.74" height="9.67" fill="rgb(250, 32, 34)" stroke="#333" stroke-width="0.35"/>
<rect x="35.40" y="496.87" width="9.74" height="9.67" fill="rgb(250, 32, 34)" stroke="#333" stroke-width="0.35"/>
<rect x="45.14" y="496.87" width="9.74" height="9.67" fill="rgb(8, 0, 255)" stroke="#333" stroke-width="0.35"/>
<rect x="54.89" y="496.87" width="9.74" height="9.67" fill="rgb(60, 51, 252)" stroke="#333" stroke-width="0.35"/>
<rect x="64.63" y="496.87" width="9.74" height="9.67" fill="rgb(8, 0, 255)" stroke="#333" stroke-width="0.35"/>
<rect x="74.37" y="496.87" width="9.74" height="9.67" fill="rgb(39, 31, 253)" stroke="#333" stroke-width="0.35"/>
<rect x="84.11" y="496.87" width="9.74" height="9.67" fill="rgb(8, 0, 255)" stroke="#333" stroke-width="0.35"/>
<rect x="93.86" y="496.87" width="9.74" height="9.67" fill="rgb(60, 51, 252)" stroke="#333" stroke-width="0.35"/>
<rect x="35.40" y="506.53" width="9.74" height="9.67" fill="rgb(250, 32, 34)" stroke="#333" stroke-width="0.35"/>
<rect x="45.14" y="506.53" width="9.74" height="9.67" fill="rgb(70, 61, 251)" stroke="#333" stroke-width="0.35"/>
<rect x="54.89" y="506.53" width="9.74" height="9.67" fill="rgb(8, 0, 255)" stroke="#333" stroke-width="0.35"/>
<rect x="64.63" y="506.53" width="9.74" height="9.67" fill="rgb(8, 0, 255)" stroke="#333" stroke-width="0.35"/>
<rect x="74.37" y="506.53" width="9.74" height="9.67" fill="rgb(240, 205, 240)" stroke="#333" stroke-width="0.35"/>
<rect x="84.11" y="506.53" width="9.74" height="9.67" fill="rgb(191, 170, 250)" stroke="#333" stroke-width="0.35"/>
<rect x="93.86" y="506.53" width="9.74" height="9.67" fill="rgb(220, 192, 245)" stroke="#333" stroke-width="0.35"/>
<rect x="35.10" y="369.90" width="68.80" height="29.60" fill="none" stroke="#8a8a8a" stroke-width="0.7"/>
<rect x="35.10" y="402.70" width="68.80" height="39.20" fill="none" stroke="#8a8a8a" stroke-width="0.7"/>
<rect x="35.10" y="444.70" width="68.80" height="39.40" fill="none" stroke="#8a8a8a" stroke-width="0.7"/>
<rect x="35.10" y="486.90" width="68.80" height="29.60" fill="none" stroke="#8a8a8a" stroke-width="0.7"/>
<text x="40.27" y="366.80" font-size="6.2" text-anchor="middle" fill="#000" stroke="#000" stroke-width="0.18">0</text>
<text x="50.01" y="366.80" font-size="6.2" text-anchor="middle" fill="#000" stroke="#000" stroke-width="0.18">3</text>
<text x="59.76" y="366.80" font-size="6.2" text-anchor="middle" fill="#000" stroke="#000" stroke-width="0.18">6</text>
<text x="69.50" y="366.80" font-size="6.2" text-anchor="middle" fill="#000" stroke="#000" stroke-width="0.18">9</text>
<text x="79.24" y="366.80" font-size="6.2" text-anchor="middle" fill="#000" stroke="#000" stroke-width="0.18">12</text>
<text x="88.99" y="366.80" font-size="6.2" text-anchor="middle" fill="#000" stroke="#000" stroke-width="0.18">15</text>
<text x="98.73" y="366.80" font-size="6.2" text-anchor="middle" fill="#000" stroke="#000" stroke-width="0.18">18</text>
<rect x="106.90" y="370.20" width="9.70" height="9.67" fill="rgb(8, 0, 255)" stroke="#333" stroke-width="0.35"/>
<rect x="116.60" y="370.20" width="9.70" height="9.67" fill="rgb(250, 32, 34)" stroke="#333" stroke-width="0.35"/>
<rect x="126.30" y="370.20" width="9.70" height="9.67" fill="rgb(217, 189, 246)" stroke="#333" stroke-width="0.35"/>
<rect x="136.00" y="370.20" width="9.70" height="9.67" fill="rgb(138, 125, 249)" stroke="#333" stroke-width="0.35"/>
<rect x="145.70" y="370.20" width="9.70" height="9.67" fill="rgb(134, 121, 248)" stroke="#333" stroke-width="0.35"/>
<rect x="155.40" y="370.20" width="9.70" height="9.67" fill="rgb(86, 76, 250)" stroke="#333" stroke-width="0.35"/>
<rect x="106.90" y="379.87" width="9.70" height="9.67" fill="rgb(102, 92, 249)" stroke="#333" stroke-width="0.35"/>
<rect x="116.60" y="379.87" width="9.70" height="9.67" fill="rgb(250, 32, 34)" stroke="#333" stroke-width="0.35"/>
<rect x="126.30" y="379.87" width="9.70" height="9.67" fill="rgb(240, 167, 198)" stroke="#333" stroke-width="0.35"/>
<rect x="136.00" y="379.87" width="9.70" height="9.67" fill="rgb(240, 205, 240)" stroke="#333" stroke-width="0.35"/>
<rect x="145.70" y="379.87" width="9.70" height="9.67" fill="rgb(8, 0, 255)" stroke="#333" stroke-width="0.35"/>
<rect x="155.40" y="379.87" width="9.70" height="9.67" fill="rgb(213, 187, 247)" stroke="#333" stroke-width="0.35"/>
<rect x="106.90" y="389.53" width="9.70" height="9.67" fill="rgb(8, 0, 255)" stroke="#333" stroke-width="0.35"/>
<rect x="116.60" y="389.53" width="9.70" height="9.67" fill="rgb(240, 205, 240)" stroke="#333" stroke-width="0.35"/>
<rect x="126.30" y="389.53" width="9.70" height="9.67" fill="rgb(250, 32, 34)" stroke="#333" stroke-width="0.35"/>
<rect x="136.00" y="389.53" width="9.70" height="9.67" fill="rgb(244, 78, 94)" stroke="#333" stroke-width="0.35"/>
<rect x="145.70" y="389.53" width="9.70" height="9.67" fill="rgb(240, 159, 189)" stroke="#333" stroke-width="0.35"/>
<rect x="155.40" y="389.53" width="9.70" height="9.67" fill="rgb(240, 193, 227)" stroke="#333" stroke-width="0.35"/>
<rect x="106.90" y="403.00" width="9.70" height="9.65" fill="rgb(250, 32, 34)" stroke="#333" stroke-width="0.35"/>
<rect x="116.60" y="403.00" width="9.70" height="9.65" fill="rgb(242, 92, 112)" stroke="#333" stroke-width="0.35"/>
<rect x="126.30" y="403.00" width="9.70" height="9.65" fill="rgb(81, 71, 250)" stroke="#333" stroke-width="0.35"/>
<rect x="136.00" y="403.00" width="9.70" height="9.65" fill="rgb(60, 51, 252)" stroke="#333" stroke-width="0.35"/>
<rect x="145.70" y="403.00" width="9.70" height="9.65" fill="rgb(18, 10, 254)" stroke="#333" stroke-width="0.35"/>
<rect x="155.40" y="403.00" width="9.70" height="9.65" fill="rgb(29, 20, 254)" stroke="#333" stroke-width="0.35"/>
<rect x="106.90" y="412.65" width="9.70" height="9.65" fill="rgb(121, 110, 248)" stroke="#333" stroke-width="0.35"/>
<rect x="116.60" y="412.65" width="9.70" height="9.65" fill="rgb(250, 32, 34)" stroke="#333" stroke-width="0.35"/>
<rect x="126.30" y="412.65" width="9.70" height="9.65" fill="rgb(112, 102, 248)" stroke="#333" stroke-width="0.35"/>
<rect x="136.00" y="412.65" width="9.70" height="9.65" fill="rgb(134, 121, 248)" stroke="#333" stroke-width="0.35"/>
<rect x="145.70" y="412.65" width="9.70" height="9.65" fill="rgb(8, 0, 255)" stroke="#333" stroke-width="0.35"/>
<rect x="155.40" y="412.65" width="9.70" height="9.65" fill="rgb(60, 51, 252)" stroke="#333" stroke-width="0.35"/>
<rect x="106.90" y="422.30" width="9.70" height="9.65" fill="rgb(8, 0, 255)" stroke="#333" stroke-width="0.35"/>
<rect x="116.60" y="422.30" width="9.70" height="9.65" fill="rgb(250, 32, 34)" stroke="#333" stroke-width="0.35"/>
<rect x="126.30" y="422.30" width="9.70" height="9.65" fill="rgb(200, 178, 250)" stroke="#333" stroke-width="0.35"/>
<rect x="136.00" y="422.30" width="9.70" height="9.65" fill="rgb(240, 155, 185)" stroke="#333" stroke-width="0.35"/>
<rect x="145.70" y="422.30" width="9.70" height="9.65" fill="rgb(241, 126, 151)" stroke="#333" stroke-width="0.35"/>
<rect x="155.40" y="422.30" width="9.70" height="9.65" fill="rgb(245, 71, 84)" stroke="#333" stroke-width="0.35"/>
<rect x="106.90" y="431.95" width="9.70" height="9.65" fill="rgb(112, 102, 248)" stroke="#333" stroke-width="0.35"/>
<rect x="116.60" y="431.95" width="9.70" height="9.65" fill="rgb(250, 32, 34)" stroke="#333" stroke-width="0.35"/>
<rect x="126.30" y="431.95" width="9.70" height="9.65" fill="rgb(86, 76, 250)" stroke="#333" stroke-width="0.35"/>
<rect x="136.00" y="431.95" width="9.70" height="9.65" fill="rgb(112, 102, 248)" stroke="#333" stroke-width="0.35"/>
<rect x="145.70" y="431.95" width="9.70" height="9.65" fill="rgb(121, 110, 248)" stroke="#333" stroke-width="0.35"/>
<rect x="155.40" y="431.95" width="9.70" height="9.65" fill="rgb(240, 205, 240)" stroke="#333" stroke-width="0.35"/>
<rect x="106.90" y="445.00" width="9.70" height="9.70" fill="rgb(250, 32, 34)" stroke="#333" stroke-width="0.35"/>
<rect x="116.60" y="445.00" width="9.70" height="9.70" fill="rgb(8, 0, 255)" stroke="#333" stroke-width="0.35"/>
<rect x="126.30" y="445.00" width="9.70" height="9.70" fill="rgb(8, 0, 255)" stroke="#333" stroke-width="0.35"/>
<rect x="136.00" y="445.00" width="9.70" height="9.70" fill="rgb(102, 92, 249)" stroke="#333" stroke-width="0.35"/>
<rect x="145.70" y="445.00" width="9.70" height="9.70" fill="rgb(121, 110, 248)" stroke="#333" stroke-width="0.35"/>
<rect x="155.40" y="445.00" width="9.70" height="9.70" fill="rgb(102, 92, 249)" stroke="#333" stroke-width="0.35"/>
<rect x="106.90" y="454.70" width="9.70" height="9.70" fill="rgb(8, 0, 255)" stroke="#333" stroke-width="0.35"/>
<rect x="116.60" y="454.70" width="9.70" height="9.70" fill="rgb(250, 32, 34)" stroke="#333" stroke-width="0.35"/>
<rect x="126.30" y="454.70" width="9.70" height="9.70" fill="rgb(241, 134, 161)" stroke="#333" stroke-width="0.35"/>
<rect x="136.00" y="454.70" width="9.70" height="9.70" fill="rgb(169, 151, 249)" stroke="#333" stroke-width="0.35"/>
<rect x="145.70" y="454.70" width="9.70" height="9.70" fill="rgb(60, 51, 252)" stroke="#333" stroke-width="0.35"/>
<rect x="155.40" y="454.70" width="9.70" height="9.70" fill="rgb(70, 61, 251)" stroke="#333" stroke-width="0.35"/>
<rect x="106.90" y="464.40" width="9.70" height="9.70" fill="rgb(240, 205, 240)" stroke="#333" stroke-width="0.35"/>
<rect x="116.60" y="464.40" width="9.70" height="9.70" fill="rgb(250, 32, 34)" stroke="#333" stroke-width="0.35"/>
<rect x="126.30" y="464.40" width="9.70" height="9.70" fill="rgb(8, 0, 255)" stroke="#333" stroke-width="0.35"/>
<rect x="136.00" y="464.40" width="9.70" height="9.70" fill="rgb(134, 121, 248)" stroke="#333" stroke-width="0.35"/>
<rect x="145.70" y="464.40" width="9.70" height="9.70" fill="rgb(156, 140, 249)" stroke="#333" stroke-width="0.35"/>
<rect x="155.40" y="464.40" width="9.70" height="9.70" fill="rgb(242, 92, 112)" stroke="#333" stroke-width="0.35"/>
<rect x="106.90" y="474.10" width="9.70" height="9.70" fill="rgb(250, 32, 34)" stroke="#333" stroke-width="0.35"/>
<rect x="116.60" y="474.10" width="9.70" height="9.70" fill="rgb(8, 0, 255)" stroke="#333" stroke-width="0.35"/>
<rect x="126.30" y="474.10" width="9.70" height="9.70" fill="rgb(8, 0, 255)" stroke="#333" stroke-width="0.35"/>
<rect x="136.00" y="474.10" width="9.70" height="9.70" fill="rgb(8, 0, 255)" stroke="#333" stroke-width="0.35"/>
<rect x="145.70" y="474.10" width="9.70" height="9.70" fill="rgb(8, 0, 255)" stroke="#333" stroke-width="0.35"/>
<rect x="155.40" y="474.10" width="9.70" height="9.70" fill="rgb(8, 0, 255)" stroke="#333" stroke-width="0.35"/>
<rect x="106.90" y="487.20" width="9.70" height="9.67" fill="rgb(250, 32, 34)" stroke="#333" stroke-width="0.35"/>
<rect x="116.60" y="487.20" width="9.70" height="9.67" fill="rgb(8, 0, 255)" stroke="#333" stroke-width="0.35"/>
<rect x="126.30" y="487.20" width="9.70" height="9.67" fill="rgb(217, 189, 246)" stroke="#333" stroke-width="0.35"/>
<rect x="136.00" y="487.20" width="9.70" height="9.67" fill="rgb(241, 134, 161)" stroke="#333" stroke-width="0.35"/>
<rect x="145.70" y="487.20" width="9.70" height="9.67" fill="rgb(242, 92, 112)" stroke="#333" stroke-width="0.35"/>
<rect x="155.40" y="487.20" width="9.70" height="9.67" fill="rgb(250, 32, 34)" stroke="#333" stroke-width="0.35"/>
<rect x="106.90" y="496.87" width="9.70" height="9.67" fill="rgb(250, 32, 34)" stroke="#333" stroke-width="0.35"/>
<rect x="116.60" y="496.87" width="9.70" height="9.67" fill="rgb(34, 26, 253)" stroke="#333" stroke-width="0.35"/>
<rect x="126.30" y="496.87" width="9.70" height="9.67" fill="rgb(8, 0, 255)" stroke="#333" stroke-width="0.35"/>
<rect x="136.00" y="496.87" width="9.70" height="9.67" fill="rgb(8, 0, 255)" stroke="#333" stroke-width="0.35"/>
<rect x="145.70" y="496.87" width="9.70" height="9.67" fill="rgb(8, 0, 255)" stroke="#333" stroke-width="0.35"/>
<rect x="155.40" y="496.87" width="9.70" height="9.67" fill="rgb(86, 76, 250)" stroke="#333" stroke-width="0.35"/>
<rect x="106.90" y="506.53" width="9.70" height="9.67" fill="rgb(250, 32, 34)" stroke="#333" stroke-width="0.35"/>
<rect x="116.60" y="506.53" width="9.70" height="9.67" fill="rgb(8, 0, 255)" stroke="#333" stroke-width="0.35"/>
<rect x="126.30" y="506.53" width="9.70" height="9.67" fill="rgb(121, 110, 248)" stroke="#333" stroke-width="0.35"/>
<rect x="136.00" y="506.53" width="9.70" height="9.67" fill="rgb(86, 76, 250)" stroke="#333" stroke-width="0.35"/>
<rect x="145.70" y="506.53" width="9.70" height="9.67" fill="rgb(121, 110, 248)" stroke="#333" stroke-width="0.35"/>
<rect x="155.40" y="506.53" width="9.70" height="9.67" fill="rgb(143, 129, 249)" stroke="#333" stroke-width="0.35"/>
<rect x="106.60" y="369.90" width="58.80" height="29.60" fill="none" stroke="#8a8a8a" stroke-width="0.7"/>
<rect x="106.60" y="402.70" width="58.80" height="39.20" fill="none" stroke="#8a8a8a" stroke-width="0.7"/>
<rect x="106.60" y="444.70" width="58.80" height="39.40" fill="none" stroke="#8a8a8a" stroke-width="0.7"/>
<rect x="106.60" y="486.90" width="58.80" height="29.60" fill="none" stroke="#8a8a8a" stroke-width="0.7"/>
<text x="111.75" y="366.80" font-size="6.2" text-anchor="middle" fill="#000" stroke="#000" stroke-width="0.18">0</text>
<text x="121.45" y="366.80" font-size="6.2" text-anchor="middle" fill="#000" stroke="#000" stroke-width="0.18">1</text>
<text x="131.15" y="366.80" font-size="6.2" text-anchor="middle" fill="#000" stroke="#000" stroke-width="0.18">2</text>
<text x="140.85" y="366.80" font-size="6.2" text-anchor="middle" fill="#000" stroke="#000" stroke-width="0.18">3</text>
<text x="150.55" y="366.80" font-size="6.2" text-anchor="middle" fill="#000" stroke="#000" stroke-width="0.18">4</text>
<text x="160.25" y="366.80" font-size="6.2" text-anchor="middle" fill="#000" stroke="#000" stroke-width="0.18">5</text>
<rect x="168.40" y="370.20" width="9.72" height="9.67" fill="rgb(240, 174, 206)" stroke="#333" stroke-width="0.35"/>
<rect x="178.12" y="370.20" width="9.72" height="9.67" fill="rgb(250, 32, 34)" stroke="#333" stroke-width="0.35"/>
<rect x="187.83" y="370.20" width="9.72" height="9.67" fill="rgb(200, 178, 250)" stroke="#333" stroke-width="0.35"/>
<rect x="197.55" y="370.20" width="9.72" height="9.67" fill="rgb(240, 205, 240)" stroke="#333" stroke-width="0.35"/>
<rect x="207.27" y="370.20" width="9.72" height="9.67" fill="rgb(240, 174, 206)" stroke="#333" stroke-width="0.35"/>
<rect x="216.98" y="370.20" width="9.72" height="9.67" fill="rgb(8, 0, 255)" stroke="#333" stroke-width="0.35"/>
<rect x="168.40" y="379.87" width="9.72" height="9.67" fill="rgb(250, 32, 34)" stroke="#333" stroke-width="0.35"/>
<rect x="178.12" y="379.87" width="9.72" height="9.67" fill="rgb(156, 140, 249)" stroke="#333" stroke-width="0.35"/>
<rect x="187.83" y="379.87" width="9.72" height="9.67" fill="rgb(86, 76, 250)" stroke="#333" stroke-width="0.35"/>
<rect x="197.55" y="379.87" width="9.72" height="9.67" fill="rgb(70, 61, 251)" stroke="#333" stroke-width="0.35"/>
<rect x="207.27" y="379.87" width="9.72" height="9.67" fill="rgb(8, 0, 255)" stroke="#333" stroke-width="0.35"/>
<rect x="216.98" y="379.87" width="9.72" height="9.67" fill="rgb(233, 200, 242)" stroke="#333" stroke-width="0.35"/>
<rect x="168.40" y="389.53" width="9.72" height="9.67" fill="rgb(244, 74, 89)" stroke="#333" stroke-width="0.35"/>
<rect x="178.12" y="389.53" width="9.72" height="9.67" fill="rgb(50, 41, 252)" stroke="#333" stroke-width="0.35"/>
<rect x="187.83" y="389.53" width="9.72" height="9.67" fill="rgb(250, 32, 34)" stroke="#333" stroke-width="0.35"/>
<rect x="197.55" y="389.53" width="9.72" height="9.67" fill="rgb(213, 187, 247)" stroke="#333" stroke-width="0.35"/>
<rect x="207.27" y="389.53" width="9.72" height="9.67" fill="rgb(134, 121, 248)" stroke="#333" stroke-width="0.35"/>
<rect x="216.98" y="389.53" width="9.72" height="9.67" fill="rgb(81, 71, 250)" stroke="#333" stroke-width="0.35"/>
<rect x="168.40" y="403.00" width="9.72" height="9.65" fill="rgb(250, 32, 34)" stroke="#333" stroke-width="0.35"/>
<rect x="178.12" y="403.00" width="9.72" height="9.65" fill="rgb(8, 0, 255)" stroke="#333" stroke-width="0.35"/>
<rect x="187.83" y="403.00" width="9.72" height="9.65" fill="rgb(86, 76, 250)" stroke="#333" stroke-width="0.35"/>
<rect x="197.55" y="403.00" width="9.72" height="9.65" fill="rgb(200, 178, 250)" stroke="#333" stroke-width="0.35"/>
<rect x="207.27" y="403.00" width="9.72" height="9.65" fill="rgb(143, 129, 249)" stroke="#333" stroke-width="0.35"/>
<rect x="216.98" y="403.00" width="9.72" height="9.65" fill="rgb(96, 87, 249)" stroke="#333" stroke-width="0.35"/>
<rect x="168.40" y="412.65" width="9.72" height="9.65" fill="rgb(143, 129, 249)" stroke="#333" stroke-width="0.35"/>
<rect x="178.12" y="412.65" width="9.72" height="9.65" fill="rgb(241, 126, 151)" stroke="#333" stroke-width="0.35"/>
<rect x="187.83" y="412.65" width="9.72" height="9.65" fill="rgb(8, 0, 255)" stroke="#333" stroke-width="0.35"/>
<rect x="197.55" y="412.65" width="9.72" height="9.65" fill="rgb(96, 87, 249)" stroke="#333" stroke-width="0.35"/>
<rect x="207.27" y="412.65" width="9.72" height="9.65" fill="rgb(250, 32, 34)" stroke="#333" stroke-width="0.35"/>
<rect x="216.98" y="412.65" width="9.72" height="9.65" fill="rgb(250, 32, 34)" stroke="#333" stroke-width="0.35"/>
<rect x="168.40" y="422.30" width="9.72" height="9.65" fill="rgb(156, 140, 249)" stroke="#333" stroke-width="0.35"/>
<rect x="178.12" y="422.30" width="9.72" height="9.65" fill="rgb(250, 32, 34)" stroke="#333" stroke-width="0.35"/>
<rect x="187.83" y="422.30" width="9.72" height="9.65" fill="rgb(8, 0, 255)" stroke="#333" stroke-width="0.35"/>
<rect x="197.55" y="422.30" width="9.72" height="9.65" fill="rgb(121, 110, 248)" stroke="#333" stroke-width="0.35"/>
<rect x="207.27" y="422.30" width="9.72" height="9.65" fill="rgb(178, 159, 250)" stroke="#333" stroke-width="0.35"/>
<rect x="216.98" y="422.30" width="9.72" height="9.65" fill="rgb(240, 155, 185)" stroke="#333" stroke-width="0.35"/>
<rect x="168.40" y="431.95" width="9.72" height="9.65" fill="rgb(250, 32, 34)" stroke="#333" stroke-width="0.35"/>
<rect x="178.12" y="431.95" width="9.72" height="9.65" fill="rgb(60, 51, 252)" stroke="#333" stroke-width="0.35"/>
<rect x="187.83" y="431.95" width="9.72" height="9.65" fill="rgb(96, 87, 249)" stroke="#333" stroke-width="0.35"/>
<rect x="197.55" y="431.95" width="9.72" height="9.65" fill="rgb(50, 41, 252)" stroke="#333" stroke-width="0.35"/>
<rect x="207.27" y="431.95" width="9.72" height="9.65" fill="rgb(8, 0, 255)" stroke="#333" stroke-width="0.35"/>
<rect x="216.98" y="431.95" width="9.72" height="9.65" fill="rgb(60, 51, 252)" stroke="#333" stroke-width="0.35"/>
<rect x="168.40" y="445.00" width="9.72" height="9.70" fill="rgb(241, 126, 151)" stroke="#333" stroke-width="0.35"/>
<rect x="178.12" y="445.00" width="9.72" height="9.70" fill="rgb(240, 155, 185)" stroke="#333" stroke-width="0.35"/>
<rect x="187.83" y="445.00" width="9.72" height="9.70" fill="rgb(112, 102, 248)" stroke="#333" stroke-width="0.35"/>
<rect x="197.55" y="445.00" width="9.72" height="9.70" fill="rgb(102, 92, 249)" stroke="#333" stroke-width="0.35"/>
<rect x="207.27" y="445.00" width="9.72" height="9.70" fill="rgb(60, 51, 252)" stroke="#333" stroke-width="0.35"/>
<rect x="216.98" y="445.00" width="9.72" height="9.70" fill="rgb(250, 32, 34)" stroke="#333" stroke-width="0.35"/>
<rect x="168.40" y="454.70" width="9.72" height="9.70" fill="rgb(96, 87, 249)" stroke="#333" stroke-width="0.35"/>
<rect x="178.12" y="454.70" width="9.72" height="9.70" fill="rgb(250, 32, 34)" stroke="#333" stroke-width="0.35"/>
<rect x="187.83" y="454.70" width="9.72" height="9.70" fill="rgb(240, 186, 219)" stroke="#333" stroke-width="0.35"/>
<rect x="197.55" y="454.70" width="9.72" height="9.70" fill="rgb(86, 76, 250)" stroke="#333" stroke-width="0.35"/>
<rect x="207.27" y="454.70" width="9.72" height="9.70" fill="rgb(81, 71, 250)" stroke="#333" stroke-width="0.35"/>
<rect x="216.98" y="454.70" width="9.72" height="9.70" fill="rgb(156, 140, 249)" stroke="#333" stroke-width="0.35"/>
<rect x="168.40" y="464.40" width="9.72" height="9.70" fill="rgb(112, 102, 248)" stroke="#333" stroke-width="0.35"/>
<rect x="178.12" y="464.40" width="9.72" height="9.70" fill="rgb(112, 102, 248)" stroke="#333" stroke-width="0.35"/>
<rect x="187.83" y="464.40" width="9.72" height="9.70" fill="rgb(240, 155, 185)" stroke="#333" stroke-width="0.35"/>
<rect x="197.55" y="464.40" width="9.72" height="9.70" fill="rgb(247, 57, 66)" stroke="#333" stroke-width="0.35"/>
<rect x="207.27" y="464.40" width="9.72" height="9.70" fill="rgb(81, 71, 250)" stroke="#333" stroke-width="0.35"/>
<rect x="216.98" y="464.40" width="9.72" height="9.70" fill="rgb(250, 32, 34)" stroke="#333" stroke-width="0.35"/>
<rect x="168.40" y="474.10" width="9.72" height="9.70" fill="rgb(250, 32, 34)" stroke="#333" stroke-width="0.35"/>
<rect x="178.12" y="474.10" width="9.72" height="9.70" fill="rgb(8, 0, 255)" stroke="#333" stroke-width="0.35"/>
<rect x="187.83" y="474.10" width="9.72" height="9.70" fill="rgb(223, 194, 244)" stroke="#333" stroke-width="0.35"/>
<rect x="197.55" y="474.10" width="9.72" height="9.70" fill="rgb(112, 102, 248)" stroke="#333" stroke-width="0.35"/>
<rect x="207.27" y="474.10" width="9.72" height="9.70" fill="rgb(60, 51, 252)" stroke="#333" stroke-width="0.35"/>
<rect x="216.98" y="474.10" width="9.72" height="9.70" fill="rgb(102, 92, 249)" stroke="#333" stroke-width="0.35"/>
<rect x="168.40" y="487.20" width="9.72" height="9.67" fill="rgb(112, 102, 248)" stroke="#333" stroke-width="0.35"/>
<rect x="178.12" y="487.20" width="9.72" height="9.67" fill="rgb(8, 0, 255)" stroke="#333" stroke-width="0.35"/>
<rect x="187.83" y="487.20" width="9.72" height="9.67" fill="rgb(244, 74, 89)" stroke="#333" stroke-width="0.35"/>
<rect x="197.55" y="487.20" width="9.72" height="9.67" fill="rgb(207, 182, 248)" stroke="#333" stroke-width="0.35"/>
<rect x="207.27" y="487.20" width="9.72" height="9.67" fill="rgb(96, 87, 249)" stroke="#333" stroke-width="0.35"/>
<rect x="216.98" y="487.20" width="9.72" height="9.67" fill="rgb(250, 32, 34)" stroke="#333" stroke-width="0.35"/>
<rect x="168.40" y="496.87" width="9.72" height="9.67" fill="rgb(250, 32, 34)" stroke="#333" stroke-width="0.35"/>
<rect x="178.12" y="496.87" width="9.72" height="9.67" fill="rgb(70, 61, 251)" stroke="#333" stroke-width="0.35"/>
<rect x="187.83" y="496.87" width="9.72" height="9.67" fill="rgb(70, 61, 251)" stroke="#333" stroke-width="0.35"/>
<rect x="197.55" y="496.87" width="9.72" height="9.67" fill="rgb(8, 0, 255)" stroke="#333" stroke-width="0.35"/>
<rect x="207.27" y="496.87" width="9.72" height="9.67" fill="rgb(8, 0, 255)" stroke="#333" stroke-width="0.35"/>
<rect x="216.98" y="496.87" width="9.72" height="9.67" fill="rgb(102, 92, 249)" stroke="#333" stroke-width="0.35"/>
<rect x="168.40" y="506.53" width="9.72" height="9.67" fill="rgb(250, 32, 34)" stroke="#333" stroke-width="0.35"/>
<rect x="178.12" y="506.53" width="9.72" height="9.67" fill="rgb(39, 31, 253)" stroke="#333" stroke-width="0.35"/>
<rect x="187.83" y="506.53" width="9.72" height="9.67" fill="rgb(240, 174, 206)" stroke="#333" stroke-width="0.35"/>
<rect x="197.55" y="506.53" width="9.72" height="9.67" fill="rgb(86, 76, 250)" stroke="#333" stroke-width="0.35"/>
<rect x="207.27" y="506.53" width="9.72" height="9.67" fill="rgb(112, 102, 248)" stroke="#333" stroke-width="0.35"/>
<rect x="216.98" y="506.53" width="9.72" height="9.67" fill="rgb(241, 134, 161)" stroke="#333" stroke-width="0.35"/>
<rect x="168.10" y="369.90" width="58.90" height="29.60" fill="none" stroke="#8a8a8a" stroke-width="0.7"/>
<rect x="168.10" y="402.70" width="58.90" height="39.20" fill="none" stroke="#8a8a8a" stroke-width="0.7"/>
<rect x="168.10" y="444.70" width="58.90" height="39.40" fill="none" stroke="#8a8a8a" stroke-width="0.7"/>
<rect x="168.10" y="486.90" width="58.90" height="29.60" fill="none" stroke="#8a8a8a" stroke-width="0.7"/>
<text x="173.26" y="366.80" font-size="6.2" text-anchor="middle" fill="#000" stroke="#000" stroke-width="0.18">0</text>
<text x="182.97" y="366.80" font-size="6.2" text-anchor="middle" fill="#000" stroke="#000" stroke-width="0.18">1</text>
<text x="192.69" y="366.80" font-size="6.2" text-anchor="middle" fill="#000" stroke="#000" stroke-width="0.18">2</text>
<text x="202.41" y="366.80" font-size="6.2" text-anchor="middle" fill="#000" stroke="#000" stroke-width="0.18">3</text>
<text x="212.12" y="366.80" font-size="6.2" text-anchor="middle" fill="#000" stroke="#000" stroke-width="0.18">4</text>
<text x="221.84" y="366.80" font-size="6.2" text-anchor="middle" fill="#000" stroke="#000" stroke-width="0.18">5</text>
<text x="32.80" y="377.03" font-size="5.9" text-anchor="end" fill="#000" stroke="#000" stroke-width="0.18" font-style="italic">Tfcp2l1</text>
<text x="32.80" y="386.70" font-size="5.9" text-anchor="end" fill="#000" stroke="#000" stroke-width="0.18" font-style="italic">Esrrb</text>
<text x="32.80" y="396.37" font-size="5.9" text-anchor="end" fill="#000" stroke="#000" stroke-width="0.18" font-style="italic">Prdm14</text>
<text x="32.80" y="409.82" font-size="5.9" text-anchor="end" fill="#000" stroke="#000" stroke-width="0.18" font-style="italic">Mvh</text>
<text x="32.80" y="419.47" font-size="5.9" text-anchor="end" fill="#000" stroke="#000" stroke-width="0.18" font-style="italic">Sycp3</text>
<text x="32.80" y="429.12" font-size="5.9" text-anchor="end" fill="#000" stroke="#000" stroke-width="0.18" font-style="italic">Dazl</text>
<text x="32.80" y="438.78" font-size="5.9" text-anchor="end" fill="#000" stroke="#000" stroke-width="0.18" font-style="italic">Stra8</text>
<text x="32.80" y="451.85" font-size="5.9" text-anchor="end" fill="#000" stroke="#000" stroke-width="0.18" font-style="italic">Pla2g1b</text>
<text x="32.80" y="461.55" font-size="5.9" text-anchor="end" fill="#000" stroke="#000" stroke-width="0.18" font-style="italic">Serpinb6c</text>
<text x="32.80" y="471.25" font-size="5.9" text-anchor="end" fill="#000" stroke="#000" stroke-width="0.18" font-style="italic">Meg3</text>
<text x="32.80" y="480.95" font-size="5.9" text-anchor="end" fill="#000" stroke="#000" stroke-width="0.18" font-style="italic">Dlk1</text>
<text x="32.80" y="494.03" font-size="5.9" text-anchor="end" fill="#000" stroke="#000" stroke-width="0.18" font-style="italic">Dnmt3L</text>
<text x="32.80" y="503.70" font-size="5.9" text-anchor="end" fill="#000" stroke="#000" stroke-width="0.18" font-style="italic">Dnmt3A</text>
<text x="32.80" y="513.37" font-size="5.9" text-anchor="end" fill="#000" stroke="#000" stroke-width="0.18" font-style="italic">Dnmt3B</text>
<text x="20.60" y="366.80" font-size="6.4" text-anchor="middle" fill="#000" stroke="#000" stroke-width="0.18">Passage :</text>
<text x="75.00" y="356.10" font-size="6.4" text-anchor="middle" fill="#000" stroke="#000" stroke-width="0.18">2i-LIF</text>
<line x1="47.70" y1="358.40" x2="102.50" y2="358.40" stroke="#000" stroke-width="0.7"/>
<text x="140.60" y="356.20" font-size="6.4" text-anchor="middle" fill="#000" stroke="#000" stroke-width="0.18">2i-LIF-KSR</text>
<line x1="118.40" y1="358.50" x2="164.10" y2="358.50" stroke="#000" stroke-width="0.7"/>
<text x="197.10" y="356.10" font-size="6.4" text-anchor="middle" fill="#000" stroke="#000" stroke-width="0.18">FBS-LIF</text>
<line x1="168.50" y1="358.30" x2="225.50" y2="358.30" stroke="#000" stroke-width="0.7"/>
<defs><linearGradient id="cb" x1="0" x2="1" y1="0" y2="0"><stop offset="0.00" stop-color="rgb(8, 0, 255)"/><stop offset="0.20" stop-color="rgb(112, 102, 248)"/><stop offset="0.40" stop-color="rgb(200, 178, 250)"/><stop offset="0.52" stop-color="rgb(240, 205, 240)"/><stop offset="0.65" stop-color="rgb(240, 155, 185)"/><stop offset="0.80" stop-color="rgb(242, 92, 112)"/><stop offset="1.00" stop-color="rgb(252, 22, 20)"/></linearGradient></defs>
<rect x="70.00" y="524.90" width="68.00" height="8.70" fill="url(#cb)" stroke="#222" stroke-width="0.6"/>
<text x="70.00" y="541.80" font-size="5.9" text-anchor="middle" fill="#000" stroke="#000" stroke-width="0.18">0</text>
<line x1="83.60" y1="531.50" x2="83.60" y2="533.60" stroke="#222" stroke-width="0.5"/>
<text x="83.60" y="541.80" font-size="5.9" text-anchor="middle" fill="#000" stroke="#000" stroke-width="0.18">20</text>
<line x1="97.20" y1="531.50" x2="97.20" y2="533.60" stroke="#222" stroke-width="0.5"/>
<text x="97.20" y="541.80" font-size="5.9" text-anchor="middle" fill="#000" stroke="#000" stroke-width="0.18">40</text>
<line x1="110.80" y1="531.50" x2="110.80" y2="533.60" stroke="#222" stroke-width="0.5"/>
<text x="110.80" y="541.80" font-size="5.9" text-anchor="middle" fill="#000" stroke="#000" stroke-width="0.18">60</text>
<line x1="124.40" y1="531.50" x2="124.40" y2="533.60" stroke="#222" stroke-width="0.5"/>
<text x="124.40" y="541.80" font-size="5.9" text-anchor="middle" fill="#000" stroke="#000" stroke-width="0.18">80</text>
<text x="138.00" y="541.80" font-size="5.9" text-anchor="middle" fill="#000" stroke="#000" stroke-width="0.18">100</text>
<text x="50.60" y="529.90" font-size="6.3" text-anchor="middle" fill="#000" stroke="#000" stroke-width="0.18">Expression</text>
<text x="50.80" y="535.90" font-size="6.3" text-anchor="middle" fill="#000" stroke="#000" stroke-width="0.18">(Relative)</text>
<clipPath id="clip825"><rect x="30.6" y="222.68" width="200" height="83.52"/></clipPath>
<g clip-path="url(#clip825)">
<rect x="36.50" y="246.90" width="12.80" height="59.30" fill="#fff" stroke="#f02b2b" stroke-width="0.9"/>
<path d="M55.10,298.49V297.90H67.90V298.49" fill="none" stroke="#2b2bf0" stroke-width="0.9"/>
<line x1="61.50" y1="297.31" x2="61.50" y2="298.49" stroke="#2b2bf0" stroke-width="0.7"/>
<line x1="59.00" y1="297.31" x2="64.00" y2="297.31" stroke="#2b2bf0" stroke-width="0.7"/>
<line x1="59.00" y1="298.49" x2="64.00" y2="298.49" stroke="#2b2bf0" stroke-width="0.7"/>
<rect x="55.10" y="298.49" width="12.80" height="7.71" fill="#fff" stroke="#f02b2b" stroke-width="0.9"/>
<line x1="61.50" y1="297.90" x2="61.50" y2="299.08" stroke="#f02b2b" stroke-width="0.8"/>
<line x1="58.90" y1="297.90" x2="64.10" y2="297.90" stroke="#f02b2b" stroke-width="1.1"/>
<line x1="58.90" y1="299.08" x2="64.10" y2="299.08" stroke="#f02b2b" stroke-width="1.1"/>
<rect x="73.70" y="293.15" width="12.80" height="13.05" fill="#fff" stroke="#f02b2b" stroke-width="0.9"/>
<line x1="80.10" y1="292.56" x2="80.10" y2="293.75" stroke="#f02b2b" stroke-width="0.8"/>
<line x1="77.50" y1="292.56" x2="82.70" y2="292.56" stroke="#f02b2b" stroke-width="1.1"/>
<line x1="77.50" y1="293.75" x2="82.70" y2="293.75" stroke="#f02b2b" stroke-width="1.1"/>
<path d="M92.30,299.68V288.41H105.10V299.68" fill="none" stroke="#2b2bf0" stroke-width="0.9"/>
<line x1="98.70" y1="287.82" x2="98.70" y2="289.00" stroke="#2b2bf0" stroke-width="0.7"/>
<line x1="96.20" y1="287.82" x2="101.20" y2="287.82" stroke="#2b2bf0" stroke-width="0.7"/>
<line x1="96.20" y1="289.00" x2="101.20" y2="289.00" stroke="#2b2bf0" stroke-width="0.7"/>
<rect x="92.30" y="299.68" width="12.80" height="6.52" fill="#fff" stroke="#f02b2b" stroke-width="0.9"/>
<line x1="98.70" y1="299.08" x2="98.70" y2="300.27" stroke="#f02b2b" stroke-width="0.8"/>
<line x1="96.10" y1="299.08" x2="101.30" y2="299.08" stroke="#f02b2b" stroke-width="1.1"/>
<line x1="96.10" y1="300.27" x2="101.30" y2="300.27" stroke="#f02b2b" stroke-width="1.1"/>
<path d="M111.10,295.53V277.14H123.90V295.53" fill="none" stroke="#2b2bf0" stroke-width="0.9"/>
<line x1="117.50" y1="276.55" x2="117.50" y2="277.74" stroke="#2b2bf0" stroke-width="0.7"/>
<line x1="115.00" y1="276.55" x2="120.00" y2="276.55" stroke="#2b2bf0" stroke-width="0.7"/>
<line x1="115.00" y1="277.74" x2="120.00" y2="277.74" stroke="#2b2bf0" stroke-width="0.7"/>
<rect x="111.10" y="295.53" width="12.80" height="10.67" fill="#fff" stroke="#f02b2b" stroke-width="0.9"/>
<line x1="117.50" y1="294.93" x2="117.50" y2="296.12" stroke="#f02b2b" stroke-width="0.8"/>
<line x1="114.90" y1="294.93" x2="120.10" y2="294.93" stroke="#f02b2b" stroke-width="1.1"/>
<line x1="114.90" y1="296.12" x2="120.10" y2="296.12" stroke="#f02b2b" stroke-width="1.1"/>
<path d="M129.70,297.90V280.11H142.50V297.90" fill="none" stroke="#2b2bf0" stroke-width="0.9"/>
<line x1="136.10" y1="278.33" x2="136.10" y2="281.89" stroke="#2b2bf0" stroke-width="0.7"/>
<line x1="133.60" y1="278.33" x2="138.60" y2="278.33" stroke="#2b2bf0" stroke-width="0.7"/>
<line x1="133.60" y1="281.89" x2="138.60" y2="281.89" stroke="#2b2bf0" stroke-width="0.7"/>
<rect x="129.70" y="297.90" width="12.80" height="8.30" fill="#fff" stroke="#f02b2b" stroke-width="0.9"/>
<line x1="136.10" y1="297.31" x2="136.10" y2="298.49" stroke="#f02b2b" stroke-width="0.8"/>
<line x1="133.50" y1="297.31" x2="138.70" y2="297.31" stroke="#f02b2b" stroke-width="1.1"/>
<line x1="133.50" y1="298.49" x2="138.70" y2="298.49" stroke="#f02b2b" stroke-width="1.1"/>
<path d="M148.20,295.53V197.68H161.00V295.53" fill="none" stroke="#2b2bf0" stroke-width="0.9"/>
<rect x="148.20" y="295.53" width="12.80" height="10.67" fill="#fff" stroke="#f02b2b" stroke-width="0.9"/>
<line x1="154.60" y1="294.93" x2="154.60" y2="296.12" stroke="#f02b2b" stroke-width="0.8"/>
<line x1="152.00" y1="294.93" x2="157.20" y2="294.93" stroke="#f02b2b" stroke-width="1.1"/>
<line x1="152.00" y1="296.12" x2="157.20" y2="296.12" stroke="#f02b2b" stroke-width="1.1"/>
<path d="M166.80,294.93V178.70H179.60V294.93" fill="none" stroke="#2b2bf0" stroke-width="0.9"/>
<rect x="166.80" y="294.93" width="12.80" height="11.27" fill="#fff" stroke="#f02b2b" stroke-width="0.9"/>
<line x1="173.20" y1="294.34" x2="173.20" y2="295.53" stroke="#f02b2b" stroke-width="0.8"/>
<line x1="170.60" y1="294.34" x2="175.80" y2="294.34" stroke="#f02b2b" stroke-width="1.1"/>
<line x1="170.60" y1="295.53" x2="175.80" y2="295.53" stroke="#f02b2b" stroke-width="1.1"/>
</g>
<polyline points="42.90,246.90 61.50,305.61 80.10,305.61 98.70,305.61 117.50,305.61 136.10,303.24 154.60,302.64 173.20,302.64" fill="none" stroke="#f02b2b" stroke-width="0.8"/>
<circle cx="42.90" cy="246.90" r="1.55" fill="#f77" stroke="#f02b2b" stroke-width="0.8"/>
<circle cx="61.50" cy="305.61" r="1.55" fill="#f77" stroke="#f02b2b" stroke-width="0.8"/>
<circle cx="80.10" cy="305.61" r="1.55" fill="#f77" stroke="#f02b2b" stroke-width="0.8"/>
<circle cx="98.70" cy="305.61" r="1.55" fill="#f77" stroke="#f02b2b" stroke-width="0.8"/>
<circle cx="117.50" cy="305.61" r="1.55" fill="#f77" stroke="#f02b2b" stroke-width="0.8"/>
<circle cx="136.10" cy="303.24" r="1.55" fill="#f77" stroke="#f02b2b" stroke-width="0.8"/>
<circle cx="154.60" cy="302.64" r="1.55" fill="#f77" stroke="#f02b2b" stroke-width="0.8"/>
<circle cx="173.20" cy="302.64" r="1.55" fill="#f77" stroke="#f02b2b" stroke-width="0.8"/>
<polyline points="42.90,246.90 61.50,303.24 80.10,286.63 98.70,288.41 117.50,296.71 136.10,277.14 154.60,272.99 173.20,229.70" fill="none" stroke="#2b2bf0" stroke-width="0.8"/>
<polygon points="42.90,245.40 44.30,247.90 41.50,247.90" fill="#2b2bf0"/>
<polygon points="61.50,301.74 62.90,304.24 60.10,304.24" fill="#2b2bf0"/>
<line x1="61.50" y1="302.05" x2="61.50" y2="304.42" stroke="#2b2bf0" stroke-width="0.7"/>
<line x1="59.30" y1="302.05" x2="63.70" y2="302.05" stroke="#2b2bf0" stroke-width="0.7"/>
<line x1="59.30" y1="304.42" x2="63.70" y2="304.42" stroke="#2b2bf0" stroke-width="0.7"/>
<polygon points="80.10,285.13 81.50,287.63 78.70,287.63" fill="#2b2bf0"/>
<line x1="80.10" y1="284.85" x2="80.10" y2="288.41" stroke="#2b2bf0" stroke-width="0.7"/>
<line x1="77.90" y1="284.85" x2="82.30" y2="284.85" stroke="#2b2bf0" stroke-width="0.7"/>
<line x1="77.90" y1="288.41" x2="82.30" y2="288.41" stroke="#2b2bf0" stroke-width="0.7"/>
<polygon points="98.70,286.91 100.10,289.41 97.30,289.41" fill="#2b2bf0"/>
<line x1="98.70" y1="287.22" x2="98.70" y2="289.60" stroke="#2b2bf0" stroke-width="0.7"/>
<line x1="96.50" y1="287.22" x2="100.90" y2="287.22" stroke="#2b2bf0" stroke-width="0.7"/>
<line x1="96.50" y1="289.60" x2="100.90" y2="289.60" stroke="#2b2bf0" stroke-width="0.7"/>
<polygon points="117.50,295.21 118.90,297.71 116.10,297.71" fill="#2b2bf0"/>
<line x1="117.50" y1="296.12" x2="117.50" y2="297.31" stroke="#2b2bf0" stroke-width="0.7"/>
<line x1="115.30" y1="296.12" x2="119.70" y2="296.12" stroke="#2b2bf0" stroke-width="0.7"/>
<line x1="115.30" y1="297.31" x2="119.70" y2="297.31" stroke="#2b2bf0" stroke-width="0.7"/>
<polygon points="136.10,275.64 137.50,278.14 134.70,278.14" fill="#2b2bf0"/>
<line x1="136.10" y1="274.18" x2="136.10" y2="280.11" stroke="#2b2bf0" stroke-width="0.7"/>
<line x1="133.90" y1="274.18" x2="138.30" y2="274.18" stroke="#2b2bf0" stroke-width="0.7"/>
<line x1="133.90" y1="280.11" x2="138.30" y2="280.11" stroke="#2b2bf0" stroke-width="0.7"/>
<polygon points="154.60,271.49 156.00,273.99 153.20,273.99" fill="#2b2bf0"/>
<line x1="154.60" y1="272.40" x2="154.60" y2="273.58" stroke="#2b2bf0" stroke-width="0.7"/>
<line x1="152.40" y1="272.40" x2="156.80" y2="272.40" stroke="#2b2bf0" stroke-width="0.7"/>
<line x1="152.40" y1="273.58" x2="156.80" y2="273.58" stroke="#2b2bf0" stroke-width="0.7"/>
<polygon points="173.20,228.20 174.60,230.70 171.80,230.70" fill="#2b2bf0"/>
<line x1="173.20" y1="227.92" x2="173.20" y2="231.48" stroke="#2b2bf0" stroke-width="0.7"/>
<line x1="171.00" y1="227.92" x2="175.40" y2="227.92" stroke="#2b2bf0" stroke-width="0.7"/>
<line x1="171.00" y1="231.48" x2="175.40" y2="231.48" stroke="#2b2bf0" stroke-width="0.7"/>
<line x1="30.60" y1="223.18" x2="30.60" y2="306.20" stroke="#000" stroke-width="0.9"/>
<line x1="30.60" y1="306.20" x2="186.00" y2="306.20" stroke="#000" stroke-width="0.9"/>
<line x1="42.90" y1="306.20" x2="42.90" y2="308.00" stroke="#000" stroke-width="0.7"/>
<line x1="61.50" y1="306.20" x2="61.50" y2="308.00" stroke="#000" stroke-width="0.7"/>
<line x1="80.10" y1="306.20" x2="80.10" y2="308.00" stroke="#000" stroke-width="0.7"/>
<line x1="98.70" y1="306.20" x2="98.70" y2="308.00" stroke="#000" stroke-width="0.7"/>
<line x1="117.50" y1="306.20" x2="117.50" y2="308.00" stroke="#000" stroke-width="0.7"/>
<line x1="136.10" y1="306.20" x2="136.10" y2="308.00" stroke="#000" stroke-width="0.7"/>
<line x1="154.60" y1="306.20" x2="154.60" y2="308.00" stroke="#000" stroke-width="0.7"/>
<line x1="173.20" y1="306.20" x2="173.20" y2="308.00" stroke="#000" stroke-width="0.7"/>
<line x1="28.80" y1="306.20" x2="30.60" y2="306.20" stroke="#000" stroke-width="0.7"/>
<text x="28.10" y="308.20" font-size="6.0" text-anchor="end" fill="#000" stroke="#000" stroke-width="0.18">0.0</text>
<line x1="28.80" y1="294.34" x2="30.60" y2="294.34" stroke="#000" stroke-width="0.7"/>
<text x="28.10" y="296.34" font-size="6.0" text-anchor="end" fill="#000" stroke="#000" stroke-width="0.18">0.2</text>
<line x1="28.80" y1="282.48" x2="30.60" y2="282.48" stroke="#000" stroke-width="0.7"/>
<text x="28.10" y="284.48" font-size="6.0" text-anchor="end" fill="#000" stroke="#000" stroke-width="0.18">0.4</text>
<line x1="28.80" y1="270.62" x2="30.60" y2="270.62" stroke="#000" stroke-width="0.7"/>
<text x="28.10" y="272.62" font-size="6.0" text-anchor="end" fill="#000" stroke="#000" stroke-width="0.18">0.6</text>
<line x1="28.80" y1="258.76" x2="30.60" y2="258.76" stroke="#000" stroke-width="0.7"/>
<text x="28.10" y="260.76" font-size="6.0" text-anchor="end" fill="#000" stroke="#000" stroke-width="0.18">0.8</text>
<line x1="28.80" y1="246.90" x2="30.60" y2="246.90" stroke="#000" stroke-width="0.7"/>
<text x="28.10" y="248.90" font-size="6.0" text-anchor="end" fill="#000" stroke="#000" stroke-width="0.18">1.0</text>
<line x1="28.80" y1="235.04" x2="30.60" y2="235.04" stroke="#000" stroke-width="0.7"/>
<text x="28.10" y="237.04" font-size="6.0" text-anchor="end" fill="#000" stroke="#000" stroke-width="0.18">1.2</text>
<line x1="28.80" y1="223.18" x2="30.60" y2="223.18" stroke="#000" stroke-width="0.7"/>
<text x="28.10" y="225.18" font-size="6.0" text-anchor="end" fill="#000" stroke="#000" stroke-width="0.18">1.4</text>
<line x1="37.00" y1="197.40" x2="45.00" y2="197.40" stroke="#2b2bf0" stroke-width="0.8"/>
<polygon points="41.00,195.90 42.40,198.40 39.60,198.40" fill="#2b2bf0"/>
<rect x="37.40" y="203.70" width="7.40" height="3.80" fill="none" stroke="#2b2bf0" stroke-width="1.05"/>
<line x1="37.00" y1="215.10" x2="45.00" y2="215.10" stroke="#f02b2b" stroke-width="0.8"/>
<circle cx="41.00" cy="215.10" r="1.55" fill="#f88" stroke="#f02b2b" stroke-width="0.8"/>
<rect x="37.40" y="222.60" width="7.40" height="3.80" fill="none" stroke="#f02b2b" stroke-width="1.05"/>
<text x="49.30" y="199.40" font-size="6.4" text-anchor="start" fill="#000" stroke="#000" stroke-width="0.18">Dnmt3L (Protein)</text>
<text x="49.30" y="207.60" font-size="6.4" stroke="#000" stroke-width="0.18"><tspan font-style="italic">Dnmt3L</tspan> (mRNA)</text>
<text x="49.30" y="217.10" font-size="6.4" text-anchor="start" fill="#000" stroke="#000" stroke-width="0.18">Dnmt3A2 (Protein)</text>
<text x="49.30" y="226.50" font-size="6.4" stroke="#000" stroke-width="0.18"><tspan font-style="italic">Dnmt3A</tspan> (mRNA)</text>
<path d="M102.00,196.85L102.00,199.15M103.00,197.43L101.00,198.57M103.00,198.57L101.00,197.43" stroke="#6a6af2" stroke-width="0.75" fill="none"/>
<path d="M105.40,196.85L105.40,199.15M106.40,197.43L104.40,198.57M106.40,198.57L104.40,197.43" stroke="#6a6af2" stroke-width="0.75" fill="none"/>
<path d="M108.80,196.85L108.80,199.15M109.80,197.43L107.80,198.57M109.80,198.57L107.80,197.43" stroke="#6a6af2" stroke-width="0.75" fill="none"/>
<path d="M102.00,204.25L102.00,206.55M103.00,204.83L101.00,205.97M103.00,205.97L101.00,204.83" stroke="#6a6af2" stroke-width="0.75" fill="none"/>
<path d="M105.40,204.25L105.40,206.55M106.40,204.83L104.40,205.97M106.40,205.97L104.40,204.83" stroke="#6a6af2" stroke-width="0.75" fill="none"/>
<path d="M108.80,204.25L108.80,206.55M109.80,204.83L107.80,205.97M109.80,205.97L107.80,204.83" stroke="#6a6af2" stroke-width="0.75" fill="none"/>
<text x="144.00" y="207.20" font-size="6.1" text-anchor="middle" fill="#2b2bf0" stroke="#2b2bf0" stroke-width="0.18">1.83 ± 0.06</text>
<text x="150.40" y="213.70" font-size="6.1" text-anchor="middle" fill="#2b2bf0" stroke="#2b2bf0" stroke-width="0.18">(p.18)</text>
<text x="181.60" y="207.20" font-size="6.1" text-anchor="middle" fill="#2b2bf0" stroke="#2b2bf0" stroke-width="0.18">2.15 ± 0.08</text>
<text x="175.00" y="213.70" font-size="6.1" text-anchor="middle" fill="#2b2bf0" stroke="#2b2bf0" stroke-width="0.18">(p.20)</text>
<text x="42.90" y="314.60" font-size="5.9" text-anchor="middle" fill="#000" stroke="#000" stroke-width="0.18">0</text>
<text x="61.50" y="314.60" font-size="5.9" text-anchor="middle" fill="#000" stroke="#000" stroke-width="0.18">3</text>
<text x="80.10" y="314.60" font-size="5.9" text-anchor="middle" fill="#000" stroke="#000" stroke-width="0.18">6</text>
<text x="98.70" y="314.60" font-size="5.9" text-anchor="middle" fill="#000" stroke="#000" stroke-width="0.18">9</text>
<text x="117.50" y="314.60" font-size="5.9" text-anchor="middle" fill="#000" stroke="#000" stroke-width="0.18">12</text>
<text x="136.10" y="314.60" font-size="5.9" text-anchor="middle" fill="#000" stroke="#000" stroke-width="0.18">15</text>
<text x="154.60" y="314.60" font-size="5.9" text-anchor="middle" fill="#000" stroke="#000" stroke-width="0.18">18</text>
<text x="173.20" y="314.60" font-size="5.9" text-anchor="middle" fill="#000" stroke="#000" stroke-width="0.18">20</text>
<text x="180.60" y="314.40" font-size="5.6" text-anchor="start" fill="#000" stroke="#000" stroke-width="0.18">:</text>
<text x="185.30" y="314.40" font-size="5.0" text-anchor="start" fill="#000" stroke="#000" stroke-width="0.18">Passage</text>
<line x1="54.70" y1="318.40" x2="178.60" y2="318.40" stroke="#000" stroke-width="0.8"/>
<text x="112.50" y="326.30" font-size="5.9" text-anchor="middle" fill="#000" stroke="#000" stroke-width="0.18">2i-LIF</text>
<text x="17.00" y="264.50" font-size="6.2" text-anchor="middle" fill="#000" stroke="#000" stroke-width="0.18" transform="rotate(-90 17.00 264.50)">Relative expression of  p.0</text>
<clipPath id="clip973"><rect x="231.4" y="222.20" width="200" height="83.90"/></clipPath>
<g clip-path="url(#clip973)">
<rect x="237.40" y="236.60" width="12.60" height="69.50" fill="#fff" stroke="#f02b2b" stroke-width="0.9"/>
<rect x="255.90" y="293.59" width="12.60" height="12.51" fill="#fff" stroke="#f02b2b" stroke-width="0.9"/>
<line x1="262.20" y1="291.50" x2="262.20" y2="295.68" stroke="#f02b2b" stroke-width="0.8"/>
<line x1="259.60" y1="291.50" x2="264.80" y2="291.50" stroke="#f02b2b" stroke-width="1.1"/>
<line x1="259.60" y1="295.68" x2="264.80" y2="295.68" stroke="#f02b2b" stroke-width="1.1"/>
<path d="M274.20,291.50V275.17H286.80V291.50" fill="none" stroke="#2b2bf0" stroke-width="0.9"/>
<line x1="280.50" y1="270.31" x2="280.50" y2="280.04" stroke="#2b2bf0" stroke-width="0.7"/>
<line x1="278.00" y1="270.31" x2="283.00" y2="270.31" stroke="#2b2bf0" stroke-width="0.7"/>
<line x1="278.00" y1="280.04" x2="283.00" y2="280.04" stroke="#2b2bf0" stroke-width="0.7"/>
<rect x="274.20" y="291.50" width="12.60" height="14.59" fill="#fff" stroke="#f02b2b" stroke-width="0.9"/>
<line x1="280.50" y1="290.81" x2="280.50" y2="292.20" stroke="#f02b2b" stroke-width="0.8"/>
<line x1="277.90" y1="290.81" x2="283.10" y2="290.81" stroke="#f02b2b" stroke-width="1.1"/>
<line x1="277.90" y1="292.20" x2="283.10" y2="292.20" stroke="#f02b2b" stroke-width="1.1"/>
<path d="M292.50,295.33V257.45H305.10V295.33" fill="none" stroke="#2b2bf0" stroke-width="0.9"/>
<line x1="298.80" y1="252.59" x2="298.80" y2="262.32" stroke="#2b2bf0" stroke-width="0.7"/>
<line x1="296.30" y1="252.59" x2="301.30" y2="252.59" stroke="#2b2bf0" stroke-width="0.7"/>
<line x1="296.30" y1="262.32" x2="301.30" y2="262.32" stroke="#2b2bf0" stroke-width="0.7"/>
<rect x="292.50" y="295.33" width="12.60" height="10.77" fill="#fff" stroke="#f02b2b" stroke-width="0.9"/>
<line x1="298.80" y1="293.94" x2="298.80" y2="296.72" stroke="#f02b2b" stroke-width="0.8"/>
<line x1="296.20" y1="293.94" x2="301.40" y2="293.94" stroke="#f02b2b" stroke-width="1.1"/>
<line x1="296.20" y1="296.72" x2="301.40" y2="296.72" stroke="#f02b2b" stroke-width="1.1"/>
<path d="M311.00,291.50V256.41H323.60V291.50" fill="none" stroke="#2b2bf0" stroke-width="0.9"/>
<line x1="317.30" y1="245.98" x2="317.30" y2="266.83" stroke="#2b2bf0" stroke-width="0.7"/>
<line x1="314.80" y1="245.98" x2="319.80" y2="245.98" stroke="#2b2bf0" stroke-width="0.7"/>
<line x1="314.80" y1="266.83" x2="319.80" y2="266.83" stroke="#2b2bf0" stroke-width="0.7"/>
<rect x="311.00" y="291.50" width="12.60" height="14.59" fill="#fff" stroke="#f02b2b" stroke-width="0.9"/>
<line x1="317.30" y1="291.16" x2="317.30" y2="291.85" stroke="#f02b2b" stroke-width="0.8"/>
<line x1="314.70" y1="291.16" x2="319.90" y2="291.16" stroke="#f02b2b" stroke-width="1.1"/>
<line x1="314.70" y1="291.85" x2="319.90" y2="291.85" stroke="#f02b2b" stroke-width="1.1"/>
<path d="M329.50,290.12V249.81H342.10V290.12" fill="none" stroke="#2b2bf0" stroke-width="0.9"/>
<line x1="335.80" y1="240.77" x2="335.80" y2="258.84" stroke="#2b2bf0" stroke-width="0.7"/>
<line x1="333.30" y1="240.77" x2="338.30" y2="240.77" stroke="#2b2bf0" stroke-width="0.7"/>
<line x1="333.30" y1="258.84" x2="338.30" y2="258.84" stroke="#2b2bf0" stroke-width="0.7"/>
<rect x="329.50" y="290.12" width="12.60" height="15.99" fill="#fff" stroke="#f02b2b" stroke-width="0.9"/>
<line x1="335.80" y1="286.64" x2="335.80" y2="293.59" stroke="#f02b2b" stroke-width="0.8"/>
<line x1="333.20" y1="286.64" x2="338.40" y2="286.64" stroke="#f02b2b" stroke-width="1.1"/>
<line x1="333.20" y1="293.59" x2="338.40" y2="293.59" stroke="#f02b2b" stroke-width="1.1"/>
</g>
<polyline points="243.70,236.60 262.20,283.51 280.50,291.85 298.80,289.07 317.30,284.90 335.80,279.69" fill="none" stroke="#f02b2b" stroke-width="0.8"/>
<circle cx="243.70" cy="236.60" r="1.55" fill="#f77" stroke="#f02b2b" stroke-width="0.8"/>
<circle cx="262.20" cy="283.51" r="1.55" fill="#f77" stroke="#f02b2b" stroke-width="0.8"/>
<line x1="262.20" y1="281.43" x2="262.20" y2="285.60" stroke="#f02b2b" stroke-width="0.7"/>
<line x1="260.00" y1="281.43" x2="264.40" y2="281.43" stroke="#f02b2b" stroke-width="0.7"/>
<line x1="260.00" y1="285.60" x2="264.40" y2="285.60" stroke="#f02b2b" stroke-width="0.7"/>
<circle cx="280.50" cy="291.85" r="1.55" fill="#f77" stroke="#f02b2b" stroke-width="0.8"/>
<line x1="280.50" y1="291.16" x2="280.50" y2="292.55" stroke="#f02b2b" stroke-width="0.7"/>
<line x1="278.30" y1="291.16" x2="282.70" y2="291.16" stroke="#f02b2b" stroke-width="0.7"/>
<line x1="278.30" y1="292.55" x2="282.70" y2="292.55" stroke="#f02b2b" stroke-width="0.7"/>
<circle cx="298.80" cy="289.07" r="1.55" fill="#f77" stroke="#f02b2b" stroke-width="0.8"/>
<line x1="298.80" y1="286.99" x2="298.80" y2="291.16" stroke="#f02b2b" stroke-width="0.7"/>
<line x1="296.60" y1="286.99" x2="301.00" y2="286.99" stroke="#f02b2b" stroke-width="0.7"/>
<line x1="296.60" y1="291.16" x2="301.00" y2="291.16" stroke="#f02b2b" stroke-width="0.7"/>
<circle cx="317.30" cy="284.90" r="1.55" fill="#f77" stroke="#f02b2b" stroke-width="0.8"/>
<line x1="317.30" y1="282.82" x2="317.30" y2="286.99" stroke="#f02b2b" stroke-width="0.7"/>
<line x1="315.10" y1="282.82" x2="319.50" y2="282.82" stroke="#f02b2b" stroke-width="0.7"/>
<line x1="315.10" y1="286.99" x2="319.50" y2="286.99" stroke="#f02b2b" stroke-width="0.7"/>
<circle cx="335.80" cy="279.69" r="1.55" fill="#f77" stroke="#f02b2b" stroke-width="0.8"/>
<line x1="335.80" y1="278.30" x2="335.80" y2="281.08" stroke="#f02b2b" stroke-width="0.7"/>
<line x1="333.60" y1="278.30" x2="338.00" y2="278.30" stroke="#f02b2b" stroke-width="0.7"/>
<line x1="333.60" y1="281.08" x2="338.00" y2="281.08" stroke="#f02b2b" stroke-width="0.7"/>
<polyline points="243.70,236.60 262.20,306.10 280.50,285.25 298.80,279.00 317.30,264.40 335.80,243.90" fill="none" stroke="#2b2bf0" stroke-width="0.8"/>
<polygon points="243.70,235.10 245.10,237.60 242.30,237.60" fill="#2b2bf0"/>
<polygon points="262.20,304.60 263.60,307.10 260.80,307.10" fill="#2b2bf0"/>
<polygon points="280.50,283.75 281.90,286.25 279.10,286.25" fill="#2b2bf0"/>
<line x1="280.50" y1="280.39" x2="280.50" y2="290.12" stroke="#2b2bf0" stroke-width="0.7"/>
<line x1="278.30" y1="280.39" x2="282.70" y2="280.39" stroke="#2b2bf0" stroke-width="0.7"/>
<line x1="278.30" y1="290.12" x2="282.70" y2="290.12" stroke="#2b2bf0" stroke-width="0.7"/>
<polygon points="298.80,277.50 300.20,280.00 297.40,280.00" fill="#2b2bf0"/>
<line x1="298.80" y1="270.66" x2="298.80" y2="287.34" stroke="#2b2bf0" stroke-width="0.7"/>
<line x1="296.60" y1="270.66" x2="301.00" y2="270.66" stroke="#2b2bf0" stroke-width="0.7"/>
<line x1="296.60" y1="287.34" x2="301.00" y2="287.34" stroke="#2b2bf0" stroke-width="0.7"/>
<polygon points="317.30,262.90 318.70,265.40 315.90,265.40" fill="#2b2bf0"/>
<line x1="317.30" y1="256.06" x2="317.30" y2="272.74" stroke="#2b2bf0" stroke-width="0.7"/>
<line x1="315.10" y1="256.06" x2="319.50" y2="256.06" stroke="#2b2bf0" stroke-width="0.7"/>
<line x1="315.10" y1="272.74" x2="319.50" y2="272.74" stroke="#2b2bf0" stroke-width="0.7"/>
<polygon points="335.80,242.40 337.20,244.90 334.40,244.90" fill="#2b2bf0"/>
<line x1="335.80" y1="240.42" x2="335.80" y2="247.37" stroke="#2b2bf0" stroke-width="0.7"/>
<line x1="333.60" y1="240.42" x2="338.00" y2="240.42" stroke="#2b2bf0" stroke-width="0.7"/>
<line x1="333.60" y1="247.37" x2="338.00" y2="247.37" stroke="#2b2bf0" stroke-width="0.7"/>
<line x1="231.40" y1="222.70" x2="231.40" y2="306.10" stroke="#000" stroke-width="0.9"/>
<line x1="231.40" y1="306.10" x2="347.80" y2="306.10" stroke="#000" stroke-width="0.9"/>
<line x1="243.70" y1="306.10" x2="243.70" y2="307.90" stroke="#000" stroke-width="0.7"/>
<line x1="262.20" y1="306.10" x2="262.20" y2="307.90" stroke="#000" stroke-width="0.7"/>
<line x1="280.50" y1="306.10" x2="280.50" y2="307.90" stroke="#000" stroke-width="0.7"/>
<line x1="298.80" y1="306.10" x2="298.80" y2="307.90" stroke="#000" stroke-width="0.7"/>
<line x1="317.30" y1="306.10" x2="317.30" y2="307.90" stroke="#000" stroke-width="0.7"/>
<line x1="335.80" y1="306.10" x2="335.80" y2="307.90" stroke="#000" stroke-width="0.7"/>
<line x1="229.60" y1="306.10" x2="231.40" y2="306.10" stroke="#000" stroke-width="0.7"/>
<text x="228.90" y="308.10" font-size="6.0" text-anchor="end" fill="#000" stroke="#000" stroke-width="0.18">0.0</text>
<line x1="229.60" y1="292.20" x2="231.40" y2="292.20" stroke="#000" stroke-width="0.7"/>
<text x="228.90" y="294.20" font-size="6.0" text-anchor="end" fill="#000" stroke="#000" stroke-width="0.18">0.2</text>
<line x1="229.60" y1="278.30" x2="231.40" y2="278.30" stroke="#000" stroke-width="0.7"/>
<text x="228.90" y="280.30" font-size="6.0" text-anchor="end" fill="#000" stroke="#000" stroke-width="0.18">0.4</text>
<line x1="229.60" y1="264.40" x2="231.40" y2="264.40" stroke="#000" stroke-width="0.7"/>
<text x="228.90" y="266.40" font-size="6.0" text-anchor="end" fill="#000" stroke="#000" stroke-width="0.18">0.6</text>
<line x1="229.60" y1="250.50" x2="231.40" y2="250.50" stroke="#000" stroke-width="0.7"/>
<text x="228.90" y="252.50" font-size="6.0" text-anchor="end" fill="#000" stroke="#000" stroke-width="0.18">0.8</text>
<line x1="229.60" y1="236.60" x2="231.40" y2="236.60" stroke="#000" stroke-width="0.7"/>
<text x="228.90" y="238.60" font-size="6.0" text-anchor="end" fill="#000" stroke="#000" stroke-width="0.18">1.0</text>
<line x1="229.60" y1="222.70" x2="231.40" y2="222.70" stroke="#000" stroke-width="0.7"/>
<text x="228.90" y="224.70" font-size="6.0" text-anchor="end" fill="#000" stroke="#000" stroke-width="0.18">1.2</text>
<line x1="238.30" y1="197.40" x2="246.30" y2="197.40" stroke="#2b2bf0" stroke-width="0.8"/>
<polygon points="242.30,195.90 243.70,198.40 240.90,198.40" fill="#2b2bf0"/>
<rect x="238.70" y="203.70" width="7.40" height="3.80" fill="none" stroke="#2b2bf0" stroke-width="1.05"/>
<line x1="238.30" y1="215.10" x2="246.30" y2="215.10" stroke="#f02b2b" stroke-width="0.8"/>
<circle cx="242.30" cy="215.10" r="1.55" fill="#f88" stroke="#f02b2b" stroke-width="0.8"/>
<rect x="238.70" y="222.60" width="7.40" height="3.80" fill="none" stroke="#f02b2b" stroke-width="1.05"/>
<text x="250.60" y="199.40" font-size="6.4" text-anchor="start" fill="#000" stroke="#000" stroke-width="0.18">Dnmt3L (Protein)</text>
<text x="250.60" y="207.60" font-size="6.4" stroke="#000" stroke-width="0.18"><tspan font-style="italic">Dnmt3L</tspan> (mRNA)</text>
<text x="250.60" y="217.10" font-size="6.4" text-anchor="start" fill="#000" stroke="#000" stroke-width="0.18">Dnmt3A2 (Protein)</text>
<text x="250.60" y="226.50" font-size="6.4" stroke="#000" stroke-width="0.18"><tspan font-style="italic">Dnmt3A</tspan> (mRNA)</text>
<path d="M302.20,196.65L302.20,198.95M303.20,197.23L301.20,198.38M303.20,198.38L301.20,197.23" stroke="#6a6af2" stroke-width="0.75" fill="none"/>
<path d="M301.60,204.65L301.60,206.95M302.60,205.23L300.60,206.38M302.60,206.38L300.60,205.23" stroke="#6a6af2" stroke-width="0.75" fill="none"/>
<path d="M305.00,204.65L305.00,206.95M306.00,205.23L304.00,206.38M306.00,206.38L304.00,205.23" stroke="#6a6af2" stroke-width="0.75" fill="none"/>
<path d="M308.40,204.65L308.40,206.95M309.40,205.23L307.40,206.38M309.40,206.38L307.40,205.23" stroke="#6a6af2" stroke-width="0.75" fill="none"/>
<text x="243.70" y="315.20" font-size="5.9" text-anchor="middle" fill="#000" stroke="#000" stroke-width="0.18">0</text>
<text x="262.20" y="315.20" font-size="5.9" text-anchor="middle" fill="#000" stroke="#000" stroke-width="0.18">1</text>
<text x="280.50" y="315.20" font-size="5.9" text-anchor="middle" fill="#000" stroke="#000" stroke-width="0.18">2</text>
<text x="298.80" y="315.20" font-size="5.9" text-anchor="middle" fill="#000" stroke="#000" stroke-width="0.18">3</text>
<text x="317.30" y="315.20" font-size="5.9" text-anchor="middle" fill="#000" stroke="#000" stroke-width="0.18">4</text>
<text x="335.80" y="315.20" font-size="5.9" text-anchor="middle" fill="#000" stroke="#000" stroke-width="0.18">5</text>
<text x="347.00" y="315.00" font-size="5.6" text-anchor="start" fill="#000" stroke="#000" stroke-width="0.18">:</text>
<text x="351.60" y="315.00" font-size="5.0" text-anchor="start" fill="#000" stroke="#000" stroke-width="0.18">Passage</text>
<line x1="257.60" y1="318.30" x2="342.60" y2="318.30" stroke="#000" stroke-width="0.8"/>
<text x="298.50" y="327.00" font-size="5.9" text-anchor="middle" fill="#000" stroke="#000" stroke-width="0.18">2i-LIF-KSR</text>
<text x="219.00" y="264.00" font-size="6.2" text-anchor="middle" fill="#000" stroke="#000" stroke-width="0.18" transform="rotate(-90 219.00 264.00)">Relative expression of  p.0</text>
<rect x="400.00" y="280.77" width="9.60" height="7.43" fill="#000" stroke="none" stroke-width="0.6"/>
<line x1="404.80" y1="280.77" x2="404.80" y2="280.33" stroke="#000" stroke-width="0.8"/>
<line x1="402.30" y1="280.33" x2="407.30" y2="280.33" stroke="#000" stroke-width="0.8"/>
<rect x="414.20" y="275.09" width="9.70" height="13.11" fill="#f52a1a" stroke="none" stroke-width="0.6"/>
<line x1="419.05" y1="275.09" x2="419.05" y2="274.22" stroke="#f52a1a" stroke-width="0.8"/>
<line x1="416.55" y1="274.22" x2="421.55" y2="274.22" stroke="#f52a1a" stroke-width="0.8"/>
<rect x="428.50" y="225.27" width="9.60" height="62.93" fill="#1212f5" stroke="none" stroke-width="0.6"/>
<line x1="433.30" y1="225.27" x2="433.30" y2="219.59" stroke="#1212f5" stroke-width="0.8"/>
<line x1="430.80" y1="219.59" x2="435.80" y2="219.59" stroke="#1212f5" stroke-width="0.8"/>
<path d="M429.90,214.24L429.90,216.54M430.90,214.82L428.90,215.97M430.90,215.97L428.90,214.82" stroke="#555" stroke-width="0.75" fill="none"/>
<path d="M433.30,214.24L433.30,216.54M434.30,214.82L432.30,215.97M434.30,215.97L432.30,214.82" stroke="#555" stroke-width="0.75" fill="none"/>
<path d="M436.70,214.24L436.70,216.54M437.70,214.82L435.70,215.97M437.70,215.97L435.70,214.82" stroke="#555" stroke-width="0.75" fill="none"/>
<line x1="395.00" y1="218.28" x2="395.00" y2="288.20" stroke="#000" stroke-width="0.9"/>
<line x1="395.00" y1="288.20" x2="442.70" y2="288.20" stroke="#000" stroke-width="0.9"/>
<line x1="393.20" y1="288.20" x2="395.00" y2="288.20" stroke="#000" stroke-width="0.7"/>
<text x="392.60" y="290.10" font-size="5.6" text-anchor="end" fill="#000" stroke="#000" stroke-width="0.18">0</text>
<line x1="393.20" y1="270.72" x2="395.00" y2="270.72" stroke="#000" stroke-width="0.7"/>
<text x="392.60" y="272.62" font-size="5.6" text-anchor="end" fill="#000" stroke="#000" stroke-width="0.18">2</text>
<line x1="393.20" y1="253.24" x2="395.00" y2="253.24" stroke="#000" stroke-width="0.7"/>
<text x="392.60" y="255.14" font-size="5.6" text-anchor="end" fill="#000" stroke="#000" stroke-width="0.18">4</text>
<line x1="393.20" y1="235.76" x2="395.00" y2="235.76" stroke="#000" stroke-width="0.7"/>
<text x="392.60" y="237.66" font-size="5.6" text-anchor="end" fill="#000" stroke="#000" stroke-width="0.18">6</text>
<line x1="393.20" y1="218.28" x2="395.00" y2="218.28" stroke="#000" stroke-width="0.7"/>
<text x="392.60" y="220.18" font-size="5.6" text-anchor="end" fill="#000" stroke="#000" stroke-width="0.18">8</text>
<text x="406.70" y="291.00" font-size="5.7" stroke="#000" stroke-width="0.18" text-anchor="end" transform="rotate(-90 406.70 291.00)" font-style="italic">Dnmt3A</text>
<text x="420.95" y="291.00" font-size="5.7" stroke="#000" stroke-width="0.18" text-anchor="end" transform="rotate(-90 420.95 291.00)" font-style="italic">Dnmt3B</text>
<text x="435.20" y="291.00" font-size="5.7" stroke="#000" stroke-width="0.18" text-anchor="end" transform="rotate(-90 435.20 291.00)" font-style="italic">Dnmt3L</text>
<rect x="403.70" y="319.70" width="31.60" height="10.10" fill="none" stroke="#000" stroke-width="0.7"/>
<text x="419.50" y="326.90" font-size="5.6" text-anchor="middle" fill="#000" stroke="#000" stroke-width="0.18">Passage 21</text>
<text x="418.90" y="209.10" font-size="6.0" text-anchor="middle" fill="#000" stroke="#000" stroke-width="0.18">mRNA</text>
<text x="386.40" y="252.80" font-size="6.2" text-anchor="middle" fill="#000" stroke="#000" stroke-width="0.18" transform="rotate(-90 386.40 252.80)">Relative expression of p.0</text>
<rect x="471.30" y="285.14" width="8.80" height="3.06" fill="#000" stroke="none" stroke-width="0.6"/>
<line x1="475.70" y1="285.14" x2="475.70" y2="284.88" stroke="#000" stroke-width="0.8"/>
<line x1="473.20" y1="284.88" x2="478.20" y2="284.88" stroke="#000" stroke-width="0.8"/>
<rect x="484.70" y="255.86" width="9.60" height="32.34" fill="#f52a1a" stroke="none" stroke-width="0.6"/>
<line x1="489.50" y1="255.86" x2="489.50" y2="253.68" stroke="#f52a1a" stroke-width="0.8"/>
<line x1="487.00" y1="253.68" x2="492.00" y2="253.68" stroke="#f52a1a" stroke-width="0.8"/>
<path d="M486.10,248.33L486.10,250.63M487.10,248.90L485.10,250.05M487.10,250.05L485.10,248.90" stroke="#555" stroke-width="0.75" fill="none"/>
<path d="M489.50,248.33L489.50,250.63M490.50,248.90L488.50,250.05M490.50,250.05L488.50,248.90" stroke="#555" stroke-width="0.75" fill="none"/>
<path d="M492.90,248.33L492.90,250.63M493.90,248.90L491.90,250.05M493.90,250.05L491.90,248.90" stroke="#555" stroke-width="0.75" fill="none"/>
<rect x="498.90" y="234.45" width="9.40" height="53.75" fill="#1212f5" stroke="none" stroke-width="0.6"/>
<line x1="503.60" y1="234.45" x2="503.60" y2="229.64" stroke="#1212f5" stroke-width="0.8"/>
<line x1="501.10" y1="229.64" x2="506.10" y2="229.64" stroke="#1212f5" stroke-width="0.8"/>
<path d="M500.20,224.29L500.20,226.59M501.20,224.87L499.20,226.02M501.20,226.02L499.20,224.87" stroke="#555" stroke-width="0.75" fill="none"/>
<path d="M503.60,224.29L503.60,226.59M504.60,224.87L502.60,226.02M504.60,226.02L502.60,224.87" stroke="#555" stroke-width="0.75" fill="none"/>
<path d="M507.00,224.29L507.00,226.59M508.00,224.87L506.00,226.02M508.00,226.02L506.00,224.87" stroke="#555" stroke-width="0.75" fill="none"/>
<line x1="465.80" y1="218.28" x2="465.80" y2="288.20" stroke="#000" stroke-width="0.9"/>
<line x1="465.80" y1="288.20" x2="513.60" y2="288.20" stroke="#000" stroke-width="0.9"/>
<line x1="464.00" y1="288.20" x2="465.80" y2="288.20" stroke="#000" stroke-width="0.7"/>
<text x="463.40" y="290.10" font-size="5.6" text-anchor="end" fill="#000" stroke="#000" stroke-width="0.18">0</text>
<line x1="464.00" y1="270.72" x2="465.80" y2="270.72" stroke="#000" stroke-width="0.7"/>
<text x="463.40" y="272.62" font-size="5.6" text-anchor="end" fill="#000" stroke="#000" stroke-width="0.18">2</text>
<line x1="464.00" y1="253.24" x2="465.80" y2="253.24" stroke="#000" stroke-width="0.7"/>
<text x="463.40" y="255.14" font-size="5.6" text-anchor="end" fill="#000" stroke="#000" stroke-width="0.18">4</text>
<line x1="464.00" y1="235.76" x2="465.80" y2="235.76" stroke="#000" stroke-width="0.7"/>
<text x="463.40" y="237.66" font-size="5.6" text-anchor="end" fill="#000" stroke="#000" stroke-width="0.18">6</text>
<line x1="464.00" y1="218.28" x2="465.80" y2="218.28" stroke="#000" stroke-width="0.7"/>
<text x="463.40" y="220.18" font-size="5.6" text-anchor="end" fill="#000" stroke="#000" stroke-width="0.18">8</text>
<text x="477.60" y="291.00" font-size="5.7" stroke="#000" stroke-width="0.18" text-anchor="end" transform="rotate(-90 477.60 291.00)">Dnmt3A2</text>
<text x="491.40" y="291.00" font-size="5.7" stroke="#000" stroke-width="0.18" text-anchor="end" transform="rotate(-90 491.40 291.00)">Dnmt3B</text>
<text x="505.50" y="291.00" font-size="5.7" stroke="#000" stroke-width="0.18" text-anchor="end" transform="rotate(-90 505.50 291.00)">Dnmt3L</text>
<rect x="474.00" y="319.70" width="31.70" height="10.10" fill="none" stroke="#000" stroke-width="0.7"/>
<text x="489.85" y="326.90" font-size="5.6" text-anchor="middle" fill="#000" stroke="#000" stroke-width="0.18">Passage 21</text>
<text x="489.30" y="209.10" font-size="6.0" text-anchor="middle" fill="#000" stroke="#000" stroke-width="0.18">Protein</text>
<text x="457.20" y="252.80" font-size="6.2" text-anchor="middle" fill="#000" stroke="#000" stroke-width="0.18" transform="rotate(-90 457.20 252.80)">Relative expression of p.0</text>
<rect x="551.30" y="276.27" width="9.60" height="11.93" fill="#000" stroke="none" stroke-width="0.6"/>
<line x1="556.10" y1="276.27" x2="556.10" y2="275.33" stroke="#000" stroke-width="0.8"/>
<line x1="553.60" y1="275.33" x2="558.60" y2="275.33" stroke="#000" stroke-width="0.8"/>
<rect x="565.50" y="268.89" width="9.30" height="19.30" fill="#f52a1a" stroke="none" stroke-width="0.6"/>
<line x1="570.15" y1="268.89" x2="570.15" y2="268.54" stroke="#f52a1a" stroke-width="0.8"/>
<line x1="567.65" y1="268.54" x2="572.65" y2="268.54" stroke="#f52a1a" stroke-width="0.8"/>
<path d="M568.45,263.19L568.45,265.49M569.45,263.77L567.45,264.92M569.45,264.92L567.45,263.77" stroke="#555" stroke-width="0.75" fill="none"/>
<path d="M571.85,263.19L571.85,265.49M572.85,263.77L570.85,264.92M572.85,264.92L570.85,263.77" stroke="#555" stroke-width="0.75" fill="none"/>
<rect x="579.30" y="226.19" width="9.40" height="62.01" fill="#1212f5" stroke="none" stroke-width="0.6"/>
<line x1="584.00" y1="226.19" x2="584.00" y2="223.62" stroke="#1212f5" stroke-width="0.8"/>
<line x1="581.50" y1="223.62" x2="586.50" y2="223.62" stroke="#1212f5" stroke-width="0.8"/>
<path d="M580.60,218.27L580.60,220.57M581.60,218.84L579.60,219.99M581.60,219.99L579.60,218.84" stroke="#555" stroke-width="0.75" fill="none"/>
<path d="M584.00,218.27L584.00,220.57M585.00,218.84L583.00,219.99M585.00,219.99L583.00,218.84" stroke="#555" stroke-width="0.75" fill="none"/>
<path d="M587.40,218.27L587.40,220.57M588.40,218.84L586.40,219.99M588.40,219.99L586.40,218.84" stroke="#555" stroke-width="0.75" fill="none"/>
<line x1="546.20" y1="218.00" x2="546.20" y2="288.20" stroke="#000" stroke-width="0.9"/>
<line x1="546.20" y1="288.20" x2="593.60" y2="288.20" stroke="#000" stroke-width="0.9"/>
<line x1="544.40" y1="288.20" x2="546.20" y2="288.20" stroke="#000" stroke-width="0.7"/>
<text x="543.80" y="290.10" font-size="5.6" text-anchor="end" fill="#000" stroke="#000" stroke-width="0.18">0</text>
<line x1="544.40" y1="264.80" x2="546.20" y2="264.80" stroke="#000" stroke-width="0.7"/>
<text x="543.80" y="266.70" font-size="5.6" text-anchor="end" fill="#000" stroke="#000" stroke-width="0.18">2</text>
<line x1="544.40" y1="241.40" x2="546.20" y2="241.40" stroke="#000" stroke-width="0.7"/>
<text x="543.80" y="243.30" font-size="5.6" text-anchor="end" fill="#000" stroke="#000" stroke-width="0.18">4</text>
<line x1="544.40" y1="218.00" x2="546.20" y2="218.00" stroke="#000" stroke-width="0.7"/>
<text x="543.80" y="219.90" font-size="5.6" text-anchor="end" fill="#000" stroke="#000" stroke-width="0.18">6</text>
<text x="558.00" y="291.00" font-size="5.7" stroke="#000" stroke-width="0.18" text-anchor="end" transform="rotate(-90 558.00 291.00)" font-style="italic">Dnmt3A</text>
<text x="572.05" y="291.00" font-size="5.7" stroke="#000" stroke-width="0.18" text-anchor="end" transform="rotate(-90 572.05 291.00)" font-style="italic">Dnmt3B</text>
<text x="585.90" y="291.00" font-size="5.7" stroke="#000" stroke-width="0.18" text-anchor="end" transform="rotate(-90 585.90 291.00)" font-style="italic">Dnmt3L</text>
<rect x="554.40" y="319.70" width="28.60" height="10.10" fill="none" stroke="#000" stroke-width="0.7"/>
<text x="568.70" y="326.90" font-size="5.6" text-anchor="middle" fill="#000" stroke="#000" stroke-width="0.18">Passage 6</text>
<text x="570.00" y="209.10" font-size="6.0" text-anchor="middle" fill="#000" stroke="#000" stroke-width="0.18">mRNA</text>
<text x="537.60" y="252.80" font-size="6.2" text-anchor="middle" fill="#000" stroke="#000" stroke-width="0.18" transform="rotate(-90 537.60 252.80)">Relative expression of p.0</text>
<rect x="623.20" y="276.83" width="9.50" height="11.37" fill="#000" stroke="none" stroke-width="0.6"/>
<line x1="627.95" y1="276.83" x2="627.95" y2="275.90" stroke="#000" stroke-width="0.8"/>
<line x1="625.45" y1="275.90" x2="630.45" y2="275.90" stroke="#000" stroke-width="0.8"/>
<rect x="637.30" y="259.20" width="9.60" height="29.00" fill="#f52a1a" stroke="none" stroke-width="0.6"/>
<line x1="642.10" y1="259.20" x2="642.10" y2="255.14" stroke="#f52a1a" stroke-width="0.8"/>
<line x1="639.60" y1="255.14" x2="644.60" y2="255.14" stroke="#f52a1a" stroke-width="0.8"/>
<path d="M642.10,249.79L642.10,252.09M643.10,250.37L641.10,251.51M643.10,251.51L641.10,250.37" stroke="#555" stroke-width="0.75" fill="none"/>
<rect x="651.50" y="228.46" width="9.20" height="59.74" fill="#1212f5" stroke="none" stroke-width="0.6"/>
<line x1="656.10" y1="228.46" x2="656.10" y2="223.24" stroke="#1212f5" stroke-width="0.8"/>
<line x1="653.60" y1="223.24" x2="658.60" y2="223.24" stroke="#1212f5" stroke-width="0.8"/>
<path d="M652.70,217.89L652.70,220.19M653.70,218.47L651.70,219.61M653.70,219.61L651.70,218.47" stroke="#555" stroke-width="0.75" fill="none"/>
<path d="M656.10,217.89L656.10,220.19M657.10,218.47L655.10,219.61M657.10,219.61L655.10,218.47" stroke="#555" stroke-width="0.75" fill="none"/>
<path d="M659.50,217.89L659.50,220.19M660.50,218.47L658.50,219.61M660.50,219.61L658.50,218.47" stroke="#555" stroke-width="0.75" fill="none"/>
<line x1="618.20" y1="218.60" x2="618.20" y2="288.20" stroke="#000" stroke-width="0.9"/>
<line x1="618.20" y1="288.20" x2="665.90" y2="288.20" stroke="#000" stroke-width="0.9"/>
<line x1="616.40" y1="288.20" x2="618.20" y2="288.20" stroke="#000" stroke-width="0.7"/>
<text x="615.80" y="290.10" font-size="5.6" text-anchor="end" fill="#000" stroke="#000" stroke-width="0.18">0</text>
<line x1="616.40" y1="265.00" x2="618.20" y2="265.00" stroke="#000" stroke-width="0.7"/>
<text x="615.80" y="266.90" font-size="5.6" text-anchor="end" fill="#000" stroke="#000" stroke-width="0.18">2</text>
<line x1="616.40" y1="241.80" x2="618.20" y2="241.80" stroke="#000" stroke-width="0.7"/>
<text x="615.80" y="243.70" font-size="5.6" text-anchor="end" fill="#000" stroke="#000" stroke-width="0.18">4</text>
<line x1="616.40" y1="218.60" x2="618.20" y2="218.60" stroke="#000" stroke-width="0.7"/>
<text x="615.80" y="220.50" font-size="5.6" text-anchor="end" fill="#000" stroke="#000" stroke-width="0.18">6</text>
<text x="629.85" y="291.00" font-size="5.7" stroke="#000" stroke-width="0.18" text-anchor="end" transform="rotate(-90 629.85 291.00)">Dnmt3A2</text>
<text x="644.00" y="291.00" font-size="5.7" stroke="#000" stroke-width="0.18" text-anchor="end" transform="rotate(-90 644.00 291.00)">Dnmt3B</text>
<text x="658.00" y="291.00" font-size="5.7" stroke="#000" stroke-width="0.18" text-anchor="end" transform="rotate(-90 658.00 291.00)">Dnmt3L</text>
<rect x="626.70" y="319.70" width="28.10" height="10.10" fill="none" stroke="#000" stroke-width="0.7"/>
<text x="640.75" y="326.90" font-size="5.6" text-anchor="middle" fill="#000" stroke="#000" stroke-width="0.18">Passage 6</text>
<text x="641.80" y="209.10" font-size="6.0" text-anchor="middle" fill="#000" stroke="#000" stroke-width="0.18">Protein</text>
<text x="609.60" y="252.80" font-size="6.2" text-anchor="middle" fill="#000" stroke="#000" stroke-width="0.18" transform="rotate(-90 609.60 252.80)">Relative expression of p.0</text>
<line x1="418.60" y1="196.50" x2="489.00" y2="196.50" stroke="#000" stroke-width="0.8"/>
<text x="453.70" y="191.80" font-size="6.0" text-anchor="middle" fill="#000" stroke="#000" stroke-width="0.18">2i-LIF → FBS</text>
<line x1="566.80" y1="196.50" x2="637.70" y2="196.50" stroke="#000" stroke-width="0.8"/>
<text x="602.00" y="191.60" font-size="6.0" text-anchor="middle" fill="#000" stroke="#000" stroke-width="0.18">2i-LIF-KSR → FBS</text>
<polyline points="531.40,423.00 554.00,463.18 576.70,450.86 599.30,473.22 621.90,456.05" fill="none" stroke="#f22" stroke-width="1.0"/>
<polyline points="531.40,423.00 554.00,442.44 576.70,426.24 599.30,439.85 621.90,399.02" fill="none" stroke="#111" stroke-width="1.0"/>
<polyline points="531.40,423.00 554.00,457.34 576.70,457.34 599.30,466.09 621.90,447.62" fill="none" stroke="#22e" stroke-width="1.0"/>
<circle cx="531.40" cy="423.00" r="1.5" fill="#f22"/>
<line x1="554.00" y1="462.53" x2="554.00" y2="463.82" stroke="#222" stroke-width="0.7"/>
<line x1="552.00" y1="462.53" x2="556.00" y2="462.53" stroke="#222" stroke-width="0.7"/>
<line x1="552.00" y1="463.82" x2="556.00" y2="463.82" stroke="#222" stroke-width="0.7"/>
<circle cx="554.00" cy="463.18" r="1.5" fill="#f22"/>
<line x1="576.70" y1="448.92" x2="576.70" y2="452.81" stroke="#222" stroke-width="0.7"/>
<line x1="574.70" y1="448.92" x2="578.70" y2="448.92" stroke="#222" stroke-width="0.7"/>
<line x1="574.70" y1="452.81" x2="578.70" y2="452.81" stroke="#222" stroke-width="0.7"/>
<circle cx="576.70" cy="450.86" r="1.5" fill="#f22"/>
<line x1="599.30" y1="471.92" x2="599.30" y2="474.52" stroke="#222" stroke-width="0.7"/>
<line x1="597.30" y1="471.92" x2="601.30" y2="471.92" stroke="#222" stroke-width="0.7"/>
<line x1="597.30" y1="474.52" x2="601.30" y2="474.52" stroke="#222" stroke-width="0.7"/>
<circle cx="599.30" cy="473.22" r="1.5" fill="#f22"/>
<line x1="621.90" y1="454.75" x2="621.90" y2="457.34" stroke="#222" stroke-width="0.7"/>
<line x1="619.90" y1="454.75" x2="623.90" y2="454.75" stroke="#222" stroke-width="0.7"/>
<line x1="619.90" y1="457.34" x2="623.90" y2="457.34" stroke="#222" stroke-width="0.7"/>
<circle cx="621.90" cy="456.05" r="1.5" fill="#f22"/>
<rect x="529.80" y="421.40" width="3.20" height="3.20" fill="#111" stroke="none" stroke-width="0.6"/>
<line x1="554.00" y1="441.14" x2="554.00" y2="443.74" stroke="#222" stroke-width="0.7"/>
<line x1="552.00" y1="441.14" x2="556.00" y2="441.14" stroke="#222" stroke-width="0.7"/>
<line x1="552.00" y1="443.74" x2="556.00" y2="443.74" stroke="#222" stroke-width="0.7"/>
<rect x="552.40" y="440.84" width="3.20" height="3.20" fill="#111" stroke="none" stroke-width="0.6"/>
<line x1="576.70" y1="421.70" x2="576.70" y2="430.78" stroke="#222" stroke-width="0.7"/>
<line x1="574.70" y1="421.70" x2="578.70" y2="421.70" stroke="#222" stroke-width="0.7"/>
<line x1="574.70" y1="430.78" x2="578.70" y2="430.78" stroke="#222" stroke-width="0.7"/>
<rect x="575.10" y="424.64" width="3.20" height="3.20" fill="#111" stroke="none" stroke-width="0.6"/>
<line x1="599.30" y1="439.20" x2="599.30" y2="440.50" stroke="#222" stroke-width="0.7"/>
<line x1="597.30" y1="439.20" x2="601.30" y2="439.20" stroke="#222" stroke-width="0.7"/>
<line x1="597.30" y1="440.50" x2="601.30" y2="440.50" stroke="#222" stroke-width="0.7"/>
<rect x="597.70" y="438.25" width="3.20" height="3.20" fill="#111" stroke="none" stroke-width="0.6"/>
<line x1="621.90" y1="392.54" x2="621.90" y2="405.50" stroke="#222" stroke-width="0.7"/>
<line x1="619.90" y1="392.54" x2="623.90" y2="392.54" stroke="#222" stroke-width="0.7"/>
<line x1="619.90" y1="405.50" x2="623.90" y2="405.50" stroke="#222" stroke-width="0.7"/>
<rect x="620.30" y="397.42" width="3.20" height="3.20" fill="#111" stroke="none" stroke-width="0.6"/>
<polygon points="531.40,421.40 532.90,424.10 529.90,424.10" fill="#22e"/>
<line x1="554.00" y1="454.75" x2="554.00" y2="459.94" stroke="#222" stroke-width="0.7"/>
<line x1="552.00" y1="454.75" x2="556.00" y2="454.75" stroke="#222" stroke-width="0.7"/>
<line x1="552.00" y1="459.94" x2="556.00" y2="459.94" stroke="#222" stroke-width="0.7"/>
<polygon points="554.00,455.74 555.50,458.44 552.50,458.44" fill="#22e"/>
<line x1="576.70" y1="454.75" x2="576.70" y2="459.94" stroke="#222" stroke-width="0.7"/>
<line x1="574.70" y1="454.75" x2="578.70" y2="454.75" stroke="#222" stroke-width="0.7"/>
<line x1="574.70" y1="459.94" x2="578.70" y2="459.94" stroke="#222" stroke-width="0.7"/>
<polygon points="576.70,455.74 578.20,458.44 575.20,458.44" fill="#22e"/>
<line x1="599.30" y1="462.20" x2="599.30" y2="469.98" stroke="#222" stroke-width="0.7"/>
<line x1="597.30" y1="462.20" x2="601.30" y2="462.20" stroke="#222" stroke-width="0.7"/>
<line x1="597.30" y1="469.98" x2="601.30" y2="469.98" stroke="#222" stroke-width="0.7"/>
<polygon points="599.30,464.49 600.80,467.19 597.80,467.19" fill="#22e"/>
<line x1="621.90" y1="442.44" x2="621.90" y2="452.81" stroke="#222" stroke-width="0.7"/>
<line x1="619.90" y1="442.44" x2="623.90" y2="442.44" stroke="#222" stroke-width="0.7"/>
<line x1="619.90" y1="452.81" x2="623.90" y2="452.81" stroke="#222" stroke-width="0.7"/>
<polygon points="621.90,446.02 623.40,448.72 620.40,448.72" fill="#22e"/>
<line x1="514.40" y1="390.50" x2="514.40" y2="487.80" stroke="#333" stroke-width="1.0"/>
<line x1="514.40" y1="487.80" x2="639.20" y2="487.80" stroke="#333" stroke-width="1.0"/>
<line x1="512.60" y1="487.80" x2="514.40" y2="487.80" stroke="#000" stroke-width="0.7"/>
<text x="512.00" y="489.70" font-size="5.6" text-anchor="end" fill="#000" stroke="#000" stroke-width="0.18">0.0</text>
<line x1="512.60" y1="455.40" x2="514.40" y2="455.40" stroke="#000" stroke-width="0.7"/>
<text x="512.00" y="457.30" font-size="5.6" text-anchor="end" fill="#000" stroke="#000" stroke-width="0.18">0.5</text>
<line x1="512.60" y1="423.00" x2="514.40" y2="423.00" stroke="#000" stroke-width="0.7"/>
<text x="512.00" y="424.90" font-size="5.6" text-anchor="end" fill="#000" stroke="#000" stroke-width="0.18">1.0</text>
<line x1="512.60" y1="390.60" x2="514.40" y2="390.60" stroke="#000" stroke-width="0.7"/>
<text x="512.00" y="392.50" font-size="5.6" text-anchor="end" fill="#000" stroke="#000" stroke-width="0.18">1.5</text>
<line x1="531.40" y1="487.80" x2="531.40" y2="489.60" stroke="#000" stroke-width="0.7"/>
<text x="531.40" y="496.40" font-size="5.9" text-anchor="middle" fill="#000" stroke="#000" stroke-width="0.18">0</text>
<line x1="554.00" y1="487.80" x2="554.00" y2="489.60" stroke="#000" stroke-width="0.7"/>
<text x="554.00" y="496.40" font-size="5.9" text-anchor="middle" fill="#000" stroke="#000" stroke-width="0.18">3</text>
<line x1="576.70" y1="487.80" x2="576.70" y2="489.60" stroke="#000" stroke-width="0.7"/>
<text x="576.70" y="496.40" font-size="5.9" text-anchor="middle" fill="#000" stroke="#000" stroke-width="0.18">6</text>
<line x1="599.30" y1="487.80" x2="599.30" y2="489.60" stroke="#000" stroke-width="0.7"/>
<text x="599.30" y="496.40" font-size="5.9" text-anchor="middle" fill="#000" stroke="#000" stroke-width="0.18">9</text>
<line x1="621.90" y1="487.80" x2="621.90" y2="489.60" stroke="#000" stroke-width="0.7"/>
<text x="621.90" y="496.40" font-size="5.9" text-anchor="middle" fill="#000" stroke="#000" stroke-width="0.18">12</text>
<text x="644.50" y="496.40" font-size="5.9" text-anchor="middle" fill="#000" stroke="#000" stroke-width="0.18">(h)</text>
<text x="576.60" y="374.50" font-size="6" text-anchor="middle" fill="#000" stroke="#000" stroke-width="0.18">CHX</text>
<text x="576.60" y="381.10" font-size="6" text-anchor="middle" fill="#000" stroke="#000" stroke-width="0.18">2i-LIF</text>
<text x="500.50" y="438.60" font-size="6.1" text-anchor="middle" fill="#000" stroke="#000" stroke-width="0.18" transform="rotate(-90 500.50 438.60)">Relative expression of protein</text>
<line x1="648.00" y1="395.90" x2="655.30" y2="395.90" stroke="#f22" stroke-width="0.8"/>
<circle cx="651.6" cy="395.90" r="1.4" fill="#f22"/>
<text x="659.30" y="398.00" font-size="6.35" text-anchor="start" fill="#000" stroke="#000" stroke-width="0.18" font-weight="normal">Dnmt3L</text>
<line x1="648.00" y1="405.90" x2="655.30" y2="405.90" stroke="#111" stroke-width="0.8"/>
<rect x="650.30" y="404.60" width="2.60" height="2.60" fill="#111" stroke="none" stroke-width="0.6"/>
<text x="659.30" y="408.00" font-size="6.35" text-anchor="start" fill="#000" stroke="#000" stroke-width="0.18" font-weight="normal">Dnmt3A2</text>
<line x1="648.00" y1="415.00" x2="655.30" y2="415.00" stroke="#22e" stroke-width="0.8"/>
<polygon points="651.6,413.50 653,416.00 650.2,416.00" fill="#22e"/>
<text x="659.30" y="417.10" font-size="6.35" text-anchor="start" fill="#000" stroke="#000" stroke-width="0.18" font-weight="normal">Dnmt3B</text>
<text x="554.00" y="424.50" font-size="6.4" text-anchor="middle" fill="#4a4aff" font-family="Liberation Serif" font-weight="bold" letter-spacing="-0.3">###</text>
<path d="M551.00,427.05L551.00,429.35M552.00,427.62L550.00,428.77M552.00,428.77L550.00,427.62" stroke="#4a4aff" stroke-width="0.75" fill="none"/>
<path d="M554.00,427.05L554.00,429.35M555.00,427.62L553.00,428.77M555.00,428.77L553.00,427.62" stroke="#4a4aff" stroke-width="0.75" fill="none"/>
<path d="M557.00,427.05L557.00,429.35M558.00,427.62L556.00,428.77M558.00,428.77L556.00,427.62" stroke="#4a4aff" stroke-width="0.75" fill="none"/>
<path d="M551.00,432.35L551.00,434.65M552.00,432.93L550.00,434.07M552.00,434.07L550.00,432.93" stroke="#555" stroke-width="0.75" fill="none"/>
<path d="M554.00,432.35L554.00,434.65M555.00,432.93L553.00,434.07M555.00,434.07L553.00,432.93" stroke="#555" stroke-width="0.75" fill="none"/>
<path d="M557.00,432.35L557.00,434.65M558.00,432.93L556.00,434.07M558.00,434.07L556.00,432.93" stroke="#555" stroke-width="0.75" fill="none"/>
<path d="M551.00,469.45L551.00,471.75M552.00,470.03L550.00,471.18M552.00,471.18L550.00,470.03" stroke="#ff4040" stroke-width="0.75" fill="none"/>
<path d="M554.00,469.45L554.00,471.75M555.00,470.03L553.00,471.18M555.00,471.18L553.00,470.03" stroke="#ff4040" stroke-width="0.75" fill="none"/>
<path d="M557.00,469.45L557.00,471.75M558.00,470.03L556.00,471.18M558.00,471.18L556.00,470.03" stroke="#ff4040" stroke-width="0.75" fill="none"/>
<text x="554.00" y="478.20" font-size="6.4" text-anchor="middle" fill="#ff4040" font-family="Liberation Serif" font-weight="bold" letter-spacing="-0.3">###</text>
<text x="576.70" y="440.60" font-size="6.4" text-anchor="middle" fill="#ff4040" font-family="Liberation Serif" font-weight="bold" letter-spacing="-0.3">###</text>
<path d="M573.70,442.85L573.70,445.15M574.70,443.43L572.70,444.57M574.70,444.57L572.70,443.43" stroke="#ff4040" stroke-width="0.75" fill="none"/>
<path d="M576.70,442.85L576.70,445.15M577.70,443.43L575.70,444.57M577.70,444.57L575.70,443.43" stroke="#ff4040" stroke-width="0.75" fill="none"/>
<path d="M579.70,442.85L579.70,445.15M580.70,443.43L578.70,444.57M580.70,444.57L578.70,443.43" stroke="#ff4040" stroke-width="0.75" fill="none"/>
<text x="576.70" y="468.30" font-size="6.4" text-anchor="middle" fill="#4a4aff" font-family="Liberation Serif" font-weight="bold" letter-spacing="-0.3">###</text>
<path d="M573.70,470.95L573.70,473.25M574.70,471.53L572.70,472.68M574.70,472.68L572.70,471.53" stroke="#4a4aff" stroke-width="0.75" fill="none"/>
<path d="M576.70,470.95L576.70,473.25M577.70,471.53L575.70,472.68M577.70,472.68L575.70,471.53" stroke="#4a4aff" stroke-width="0.75" fill="none"/>
<path d="M579.70,470.95L579.70,473.25M580.70,471.53L578.70,472.68M580.70,472.68L578.70,471.53" stroke="#4a4aff" stroke-width="0.75" fill="none"/>
<path d="M596.30,426.35L596.30,428.65M597.30,426.93L595.30,428.07M597.30,428.07L595.30,426.93" stroke="#555" stroke-width="0.75" fill="none"/>
<path d="M599.30,426.35L599.30,428.65M600.30,426.93L598.30,428.07M600.30,428.07L598.30,426.93" stroke="#555" stroke-width="0.75" fill="none"/>
<path d="M602.30,426.35L602.30,428.65M603.30,426.93L601.30,428.07M603.30,428.07L601.30,426.93" stroke="#555" stroke-width="0.75" fill="none"/>
<text x="599.30" y="453.20" font-size="6.4" text-anchor="middle" fill="#4a4aff" font-family="Liberation Serif" font-weight="bold" letter-spacing="-0.3">###</text>
<path d="M596.30,455.55L596.30,457.85M597.30,456.12L595.30,457.27M597.30,457.27L595.30,456.12" stroke="#4a4aff" stroke-width="0.75" fill="none"/>
<path d="M599.30,455.55L599.30,457.85M600.30,456.12L598.30,457.27M600.30,457.27L598.30,456.12" stroke="#4a4aff" stroke-width="0.75" fill="none"/>
<path d="M602.30,455.55L602.30,457.85M603.30,456.12L601.30,457.27M603.30,457.27L601.30,456.12" stroke="#4a4aff" stroke-width="0.75" fill="none"/>
<path d="M596.30,477.15L596.30,479.45M597.30,477.73L595.30,478.88M597.30,478.88L595.30,477.73" stroke="#ff4040" stroke-width="0.75" fill="none"/>
<path d="M599.30,477.15L599.30,479.45M600.30,477.73L598.30,478.88M600.30,478.88L598.30,477.73" stroke="#ff4040" stroke-width="0.75" fill="none"/>
<path d="M602.30,477.15L602.30,479.45M603.30,477.73L601.30,478.88M603.30,478.88L601.30,477.73" stroke="#ff4040" stroke-width="0.75" fill="none"/>
<text x="599.30" y="485.90" font-size="6.4" text-anchor="middle" fill="#ff4040" font-family="Liberation Serif" font-weight="bold" letter-spacing="-0.3">###</text>
<path d="M618.90,385.65L618.90,387.95M619.90,386.23L617.90,387.38M619.90,387.38L617.90,386.23" stroke="#555" stroke-width="0.75" fill="none"/>
<path d="M621.90,385.65L621.90,387.95M622.90,386.23L620.90,387.38M622.90,387.38L620.90,386.23" stroke="#555" stroke-width="0.75" fill="none"/>
<path d="M624.90,385.65L624.90,387.95M625.90,386.23L623.90,387.38M625.90,387.38L623.90,386.23" stroke="#555" stroke-width="0.75" fill="none"/>
<text x="621.90" y="432.00" font-size="6.4" text-anchor="middle" fill="#4a4aff" font-family="Liberation Serif" font-weight="bold" letter-spacing="-0.3">###</text>
<path d="M618.90,434.75L618.90,437.05M619.90,435.32L617.90,436.47M619.90,436.47L617.90,435.32" stroke="#4a4aff" stroke-width="0.75" fill="none"/>
<path d="M621.90,434.75L621.90,437.05M622.90,435.32L620.90,436.47M622.90,436.47L620.90,435.32" stroke="#4a4aff" stroke-width="0.75" fill="none"/>
<path d="M624.90,434.75L624.90,437.05M625.90,435.32L623.90,436.47M625.90,436.47L623.90,435.32" stroke="#4a4aff" stroke-width="0.75" fill="none"/>
<path d="M618.90,462.75L618.90,465.05M619.90,463.32L617.90,464.47M619.90,464.47L617.90,463.32" stroke="#ff4040" stroke-width="0.75" fill="none"/>
<path d="M621.90,462.75L621.90,465.05M622.90,463.32L620.90,464.47M622.90,464.47L620.90,463.32" stroke="#ff4040" stroke-width="0.75" fill="none"/>
<path d="M624.90,462.75L624.90,465.05M625.90,463.32L623.90,464.47M625.90,464.47L623.90,463.32" stroke="#ff4040" stroke-width="0.75" fill="none"/>
<text x="621.90" y="471.50" font-size="6.4" text-anchor="middle" fill="#ff4040" font-family="Liberation Serif" font-weight="bold" letter-spacing="-0.3">###</text>
</svg>
</body></html>
